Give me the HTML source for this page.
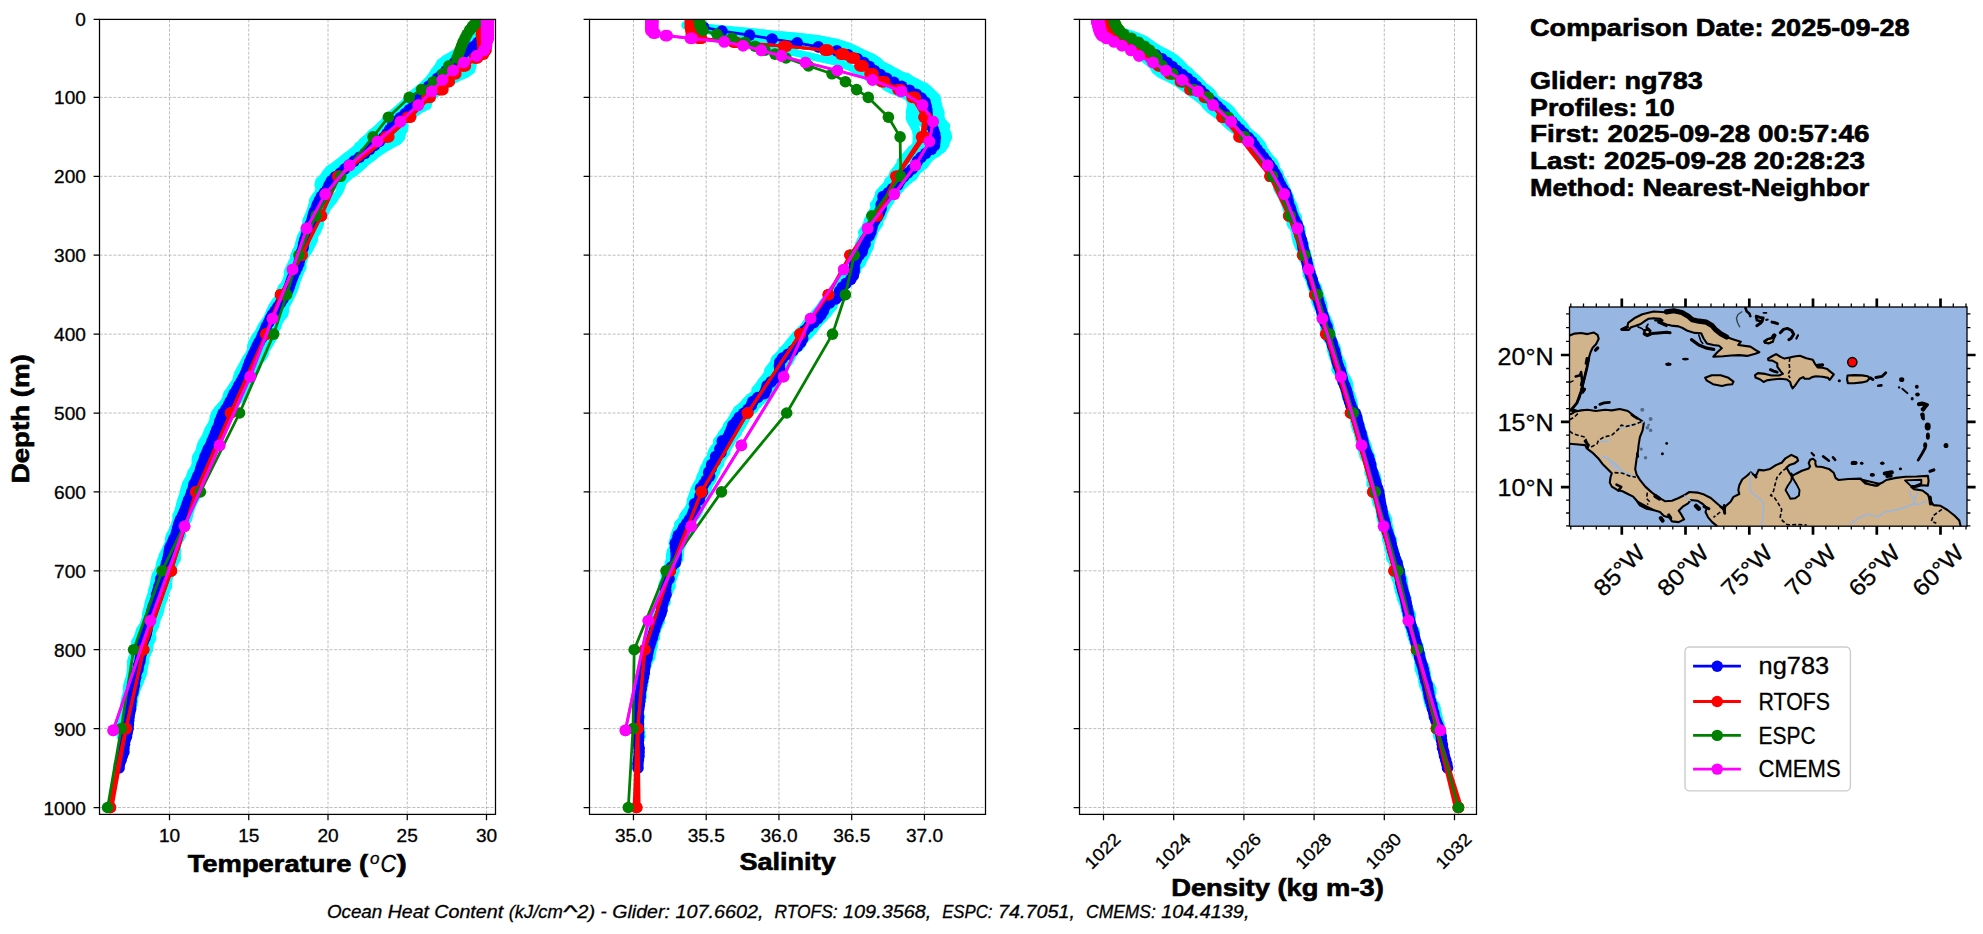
<!DOCTYPE html>
<html><head><meta charset="utf-8"><title>Glider model comparison</title><style>html,body{margin:0;padding:0;background:#fff}svg{display:block}text{white-space:pre}</style></head><body>
<svg width="1983" height="934" viewBox="0 0 1983 934" font-family="'Liberation Sans', sans-serif">
<rect width="1983" height="934" fill="#fff"/>
<defs>
<clipPath id="c0"><rect x="99.5" y="19.4" width="396.0" height="795.0"/></clipPath>
<clipPath id="c1"><rect x="589.5" y="19.4" width="396.0" height="795.0"/></clipPath>
<clipPath id="c2"><rect x="1079.5" y="19.4" width="397.0" height="795.0"/></clipPath>
<marker id="mb" markerWidth="12.6" markerHeight="12.6" refX="6.3" refY="6.3" markerUnits="userSpaceOnUse"><circle cx="6.3" cy="6.3" r="5.8" fill="#00f"/></marker>
<marker id="mr" markerWidth="12.6" markerHeight="12.6" refX="6.3" refY="6.3" markerUnits="userSpaceOnUse"><circle cx="6.3" cy="6.3" r="5.8" fill="#f00"/></marker>
<marker id="mg" markerWidth="12.6" markerHeight="12.6" refX="6.3" refY="6.3" markerUnits="userSpaceOnUse"><circle cx="6.3" cy="6.3" r="5.8" fill="#008000"/></marker>
<marker id="mm" markerWidth="12.6" markerHeight="12.6" refX="6.3" refY="6.3" markerUnits="userSpaceOnUse"><circle cx="6.3" cy="6.3" r="5.8" fill="#f0f"/></marker>
<marker id="mc" markerWidth="8.0" markerHeight="8.0" refX="4.0" refY="4.0" markerUnits="userSpaceOnUse"><circle cx="4.0" cy="4.0" r="3.5" fill="#0ff"/></marker>
</defs>
<path d="M99.5 97.4H495.5M99.5 176.3H495.5M99.5 255.2H495.5M99.5 334.1H495.5M99.5 413.0H495.5M99.5 491.9H495.5M99.5 570.8H495.5M99.5 649.7H495.5M99.5 728.6H495.5M99.5 807.5H495.5M169.5 19.4V814.4M248.75 19.4V814.4M328.0 19.4V814.4M407.25 19.4V814.4M486.5 19.4V814.4" fill="none" stroke="#b0b0b0" stroke-width="0.8" stroke-dasharray="3.1 1.5"/>
<path d="M589.5 97.4H985.45M589.5 176.3H985.45M589.5 255.2H985.45M589.5 334.1H985.45M589.5 413.0H985.45M589.5 491.9H985.45M589.5 570.8H985.45M589.5 649.7H985.45M589.5 728.6H985.45M589.5 807.5H985.45M633.45 19.4V814.4M706.2 19.4V814.4M778.95 19.4V814.4M851.7 19.4V814.4M924.45 19.4V814.4" fill="none" stroke="#b0b0b0" stroke-width="0.8" stroke-dasharray="3.1 1.5"/>
<path d="M1079.5 97.4H1476.55M1079.5 176.3H1476.55M1079.5 255.2H1476.55M1079.5 334.1H1476.55M1079.5 413.0H1476.55M1079.5 491.9H1476.55M1079.5 570.8H1476.55M1079.5 649.7H1476.55M1079.5 728.6H1476.55M1079.5 807.5H1476.55M1103.5 19.4V814.4M1173.7 19.4V814.4M1243.9 19.4V814.4M1314.1 19.4V814.4M1384.3 19.4V814.4M1454.5 19.4V814.4" fill="none" stroke="#b0b0b0" stroke-width="0.8" stroke-dasharray="3.1 1.5"/>
<g clip-path="url(#c0)">
<polyline points="477.4,19.3 475.1,23.2 474.5,27.2 471.7,31.1 468.0,35.1 467.5,39.0 467.1,42.9 464.2,46.9 458.9,50.8 453.2,54.8 445.1,58.7 439.8,62.6 437.8,66.6 434.5,70.5 432.1,74.5 429.2,78.4 425.5,82.3 421.3,86.3 416.7,90.2 411.6,94.2 407.4,98.1 404.8,102.0 400.4,106.0 396.2,109.9 392.6,113.9 389.4,117.8 384.1,121.7 379.4,125.7 376.3,129.6 371.8,133.6 367.0,137.5 362.4,141.4 359.2,145.4 354.9,149.3 349.9,153.3 344.5,157.2 339.8,161.1 334.6,165.1 328.7,169.0 325.5,173.0 323.0,176.9 318.8,180.8 317.8,184.8 319.0,188.7 317.8,192.7 314.7,196.6 312.5,200.5 312.5,204.5 311.7,208.4 309.5,212.4 307.9,216.3 306.5,220.2 305.7,224.2 304.7,228.1 303.0,232.1 300.7,236.0 299.5,239.9 298.4,243.9 297.5,247.8 295.8,251.8 293.7,255.7 293.1,259.6 291.0,263.6 290.8,267.5 291.2,271.5 288.4,275.4 286.6,279.3 285.8,283.3 281.8,287.2 279.6,291.2 279.0,295.1 276.8,299.0 273.9,303.0 271.5,306.9 269.9,310.9 268.7,314.8 266.8,318.7 263.9,322.7 262.5,326.6 259.9,330.6 256.5,334.5 253.8,338.4 253.1,342.4 253.0,346.3 250.6,350.3 248.5,354.2 246.0,358.1 243.8,362.1 241.6,366.0 239.4,370.0 237.7,373.9 236.8,377.8 235.2,381.8 232.3,385.7 229.6,389.7 226.8,393.6 225.8,397.5 224.1,401.5 220.8,405.4 217.8,409.4 214.7,413.3 213.0,417.2 212.6,421.2 210.6,425.1 208.1,429.1 206.5,433.0 205.0,436.9 202.4,440.9 200.4,444.8 199.4,448.8 198.6,452.7 197.2,456.6 195.6,460.6 195.6,464.5 193.5,468.5 190.7,472.4 189.6,476.3 188.5,480.3 186.3,484.2 185.1,488.2 185.8,492.1 184.1,496.0 181.6,500.0 179.9,503.9 179.1,507.9 177.8,511.8 175.7,515.7 176.2,519.7 175.1,523.6 173.7,527.6 173.8,531.5 171.8,535.4 169.8,539.4 169.4,543.3 167.4,547.3 164.4,551.2 162.2,555.1 161.1,559.1 161.4,563.0 160.6,567.0 157.6,570.9 155.2,574.8 154.3,578.8 153.8,582.7 152.7,586.7 151.5,590.6 150.8,594.5 149.4,598.5 148.1,602.4 147.4,606.4 146.3,610.3 145.4,614.2 145.6,618.2 144.5,622.1 142.1,626.1 139.4,630.0 138.3,633.9 136.9,637.9 134.5,641.8 135.0,645.8 135.2,649.7 133.8,653.6 131.6,657.6 130.7,661.5 130.7,665.5 130.6,669.4 131.8,673.3 130.8,677.3 128.2,681.2 126.6,685.2 126.4,689.1 126.3,693.0 124.9,697.0 124.3,700.9 123.6,704.9 123.5,708.8 124.2,712.7 123.6,716.7 122.3,720.6 121.7,724.6 121.6,728.5 120.7,732.4 120.2,736.4" fill="none" stroke="#0ff" stroke-width="7.0" stroke-linejoin="round" stroke-linecap="round"/>
<polyline points="481.3,19.3 479.5,23.2 475.6,27.2 477.3,31.1 476.5,35.1 475.0,39.0 473.8,42.9 470.5,46.9 464.6,50.8 460.2,54.8 458.9,58.7 442.0,62.6 443.8,66.6 437.0,70.5 432.5,74.5 429.4,78.4 427.9,82.3 424.4,86.3 417.6,90.2 412.7,94.2 409.5,98.1 406.0,102.0 401.6,106.0 396.8,109.9 391.5,113.9 387.6,117.8 384.0,121.7 380.8,125.7 375.5,129.6 370.4,133.6 367.5,137.5 367.1,141.4 357.7,145.4 358.1,149.3 353.9,153.3 348.0,157.2 346.2,161.1 338.7,165.1 337.8,169.0 330.9,173.0 326.8,176.9 322.0,180.8 321.3,184.8 322.9,188.7 318.7,192.7 317.9,196.6 313.5,200.5 311.8,204.5 310.7,208.4 309.7,212.4 308.0,216.3 305.9,220.2 305.7,224.2 306.0,228.1 305.1,232.1 302.5,236.0 300.1,239.9 299.6,243.9 298.1,247.8 295.2,251.8 294.0,255.7 293.6,259.6 291.6,263.6 289.0,267.5 287.3,271.5 287.3,275.4 286.4,279.3 284.5,283.3 283.3,287.2 281.6,291.2 279.7,295.1 281.2,299.0 279.8,303.0 273.0,306.9 269.8,310.9 268.1,314.8 266.5,318.7 263.5,322.7 260.8,326.6 259.0,330.6 257.4,334.5 254.7,338.4 251.7,342.4 250.5,346.3 250.7,350.3 249.6,354.2 246.0,358.1 243.9,362.1 243.3,366.0 240.8,370.0 237.4,373.9 236.3,377.8 235.9,381.8 232.7,385.7 230.1,389.7 228.5,393.6 227.4,397.5 224.4,401.5 221.1,405.4 217.2,409.4 214.7,413.3 214.1,417.2 213.5,421.2 214.9,425.1 212.5,429.1 208.5,433.0 207.2,436.9 206.6,440.9 203.6,444.8 202.2,448.8 198.1,452.7 195.5,456.6 195.0,460.6 195.1,464.5 193.6,468.5 193.2,472.4 191.1,476.3 187.3,480.3 185.3,484.2 184.2,488.2 183.1,492.1 182.8,496.0 180.7,500.0 179.7,503.9 178.8,507.9 177.6,511.8 177.3,515.7 175.8,519.7 174.7,523.6 173.3,527.6 171.5,531.5 169.3,535.4 168.2,539.4 168.9,543.3 168.6,547.3 166.9,551.2 164.6,555.1 162.0,559.1 160.9,563.0 159.9,567.0 157.5,570.9 156.6,574.8 155.0,578.8 153.7,582.7 153.7,586.7 152.2,590.6 151.2,594.5 151.6,598.5 150.9,602.4 148.4,606.4 150.3,610.3 149.4,614.2 145.2,618.2 143.8,622.1 144.8,626.1 145.9,630.0 144.8,633.9 141.6,637.9 140.6,641.8 138.0,645.8 135.6,649.7 135.5,653.6 132.5,657.6 130.5,661.5 130.6,665.5 130.7,669.4 130.7,673.3 130.5,677.3 130.0,681.2 130.1,685.2 131.5,689.1 130.7,693.0 129.7,697.0 126.9,700.9 125.1,704.9 124.6,708.8 123.0,712.7 121.8,716.7 122.2,720.6 122.6,724.6 124.3,728.5 124.5,732.4 122.7,736.4" fill="none" stroke="#0ff" stroke-width="7.0" stroke-linejoin="round" stroke-linecap="round"/>
<polyline points="478.5,19.3 476.7,23.2 473.2,27.2 471.6,31.1 470.6,35.1 468.4,39.0 466.3,42.9 465.8,46.9 458.3,50.8 451.8,54.8 444.9,58.7 442.6,62.6 443.6,66.6 450.2,70.5 445.1,74.5 437.9,78.4 433.0,82.3 429.2,86.3 424.8,90.2 418.5,94.2 413.3,98.1 406.6,102.0 401.9,106.0 396.7,109.9 391.6,113.9 387.6,117.8 383.9,121.7 380.1,125.7 376.3,129.6 372.9,133.6 367.8,137.5 362.3,141.4 360.6,145.4 358.9,149.3 352.1,153.3 347.9,157.2 341.4,161.1 337.7,165.1 335.4,169.0 334.3,173.0 328.4,176.9 326.5,180.8 325.6,184.8 325.3,188.7 323.2,192.7 321.9,196.6 325.7,200.5 323.7,204.5 320.0,208.4 315.3,212.4 313.8,216.3 312.8,220.2 311.0,224.2 308.7,228.1 305.2,232.1 302.9,236.0 303.7,239.9 304.1,243.9 300.8,247.8 298.8,251.8 298.2,255.7 298.2,259.6 297.6,263.6 297.3,267.5 295.6,271.5 294.1,275.4 293.5,279.3 289.0,283.3 289.5,287.2 287.8,291.2 284.9,295.1 282.1,299.0 280.0,303.0 278.1,306.9 273.1,310.9 271.3,314.8 268.9,318.7 266.3,322.7 265.0,326.6 261.6,330.6 258.2,334.5 258.6,338.4 255.6,342.4 253.2,346.3 252.4,350.3 253.8,354.2 251.6,358.1 252.3,362.1 252.8,366.0 251.2,370.0 249.3,373.9 246.6,377.8 247.5,381.8 242.4,385.7 238.8,389.7 234.1,393.6 233.5,397.5 229.4,401.5 225.4,405.4 223.2,409.4 219.9,413.3 219.3,417.2 218.2,421.2 216.2,425.1 210.7,429.1 209.6,433.0 208.9,436.9 206.7,440.9 204.1,444.8 204.1,448.8 201.3,452.7 200.0,456.6 201.2,460.6 198.8,464.5 195.0,468.5 194.7,472.4 193.0,476.3 189.3,480.3 190.3,484.2 189.5,488.2 184.9,492.1 182.1,496.0 183.4,500.0 182.5,503.9 183.3,507.9 183.8,511.8 180.6,515.7 178.0,519.7 179.9,523.6 179.5,527.6 175.9,531.5 173.6,535.4 174.1,539.4 172.5,543.3 168.5,547.3 166.8,551.2 166.4,555.1 164.6,559.1 163.7,563.0 164.6,567.0 163.9,570.9 165.0,574.8 164.2,578.8 165.7,582.7 162.4,586.7 161.5,590.6 161.6,594.5 157.4,598.5 155.3,602.4 152.0,606.4 151.4,610.3 149.5,614.2 148.6,618.2 147.3,622.1 145.6,626.1 145.4,630.0 146.0,633.9 142.4,637.9 141.6,641.8 138.1,645.8 137.6,649.7 135.3,653.6 132.4,657.6 134.2,661.5 131.0,665.5 130.3,669.4 129.9,673.3 129.2,677.3 127.9,681.2 128.1,685.2 128.4,689.1 128.2,693.0 126.9,697.0 126.6,700.9 127.7,704.9 127.1,708.8 126.3,712.7 125.6,716.7 125.7,720.6 124.1,724.6 123.3,728.5 124.6,732.4 123.9,736.4" fill="none" stroke="#0ff" stroke-width="7.0" stroke-linejoin="round" stroke-linecap="round"/>
<polyline points="481.1,19.3 478.4,23.2 476.3,27.2 473.4,31.1 475.2,35.1 472.7,39.0 466.6,42.9 464.7,46.9 463.1,50.8 459.6,54.8 456.9,58.7 456.3,62.6 450.9,66.6 447.6,70.5 449.4,74.5 444.6,78.4 439.7,82.3 438.5,86.3 435.6,90.2 428.5,94.2 423.3,98.1 419.1,102.0 413.9,106.0 408.4,109.9 401.0,113.9 392.7,117.8 390.0,121.7 390.9,125.7 389.6,129.6 387.3,133.6 387.2,137.5 382.1,141.4 372.7,145.4 369.3,149.3 360.2,153.3 350.7,157.2 345.8,161.1 340.4,165.1 333.4,169.0 328.3,173.0 330.5,176.9 329.7,180.8 329.1,184.8 326.7,188.7 324.3,192.7 320.4,196.6 320.2,200.5 318.5,204.5 312.7,208.4 312.9,212.4 313.9,216.3 312.0,220.2 310.4,224.2 310.3,228.1 310.3,232.1 307.3,236.0 307.2,239.9 304.5,243.9 304.2,247.8 304.0,251.8 302.4,255.7 302.6,259.6 298.2,263.6 296.7,267.5 294.1,271.5 293.1,275.4 293.0,279.3 292.8,283.3 289.9,287.2 287.0,291.2 286.6,295.1 286.0,299.0 283.7,303.0 281.9,306.9 277.9,310.9 274.5,314.8 270.5,318.7 268.2,322.7 264.7,326.6 264.4,330.6 265.8,334.5 265.5,338.4 265.7,342.4 261.9,346.3 260.6,350.3 255.9,354.2 254.3,358.1 253.3,362.1 248.2,366.0 246.8,370.0 243.8,373.9 241.3,377.8 239.7,381.8 240.1,385.7 237.8,389.7 230.7,393.6 233.0,397.5 229.0,401.5 227.4,405.4 225.2,409.4 218.6,413.3 215.6,417.2 213.2,421.2 213.6,425.1 211.2,429.1 210.5,433.0 207.4,436.9 207.1,440.9 208.1,444.8 208.3,448.8 208.2,452.7 203.3,456.6 201.5,460.6 201.8,464.5 203.0,468.5 201.8,472.4 197.9,476.3 195.8,480.3 198.8,484.2 196.2,488.2 192.6,492.1 190.2,496.0 188.3,500.0 186.8,503.9 184.7,507.9 182.8,511.8 181.0,515.7 180.5,519.7 177.7,523.6 175.4,527.6 172.4,531.5 171.4,535.4 169.6,539.4 167.8,543.3 166.1,547.3 164.5,551.2 163.7,555.1 161.2,559.1 159.6,563.0 158.9,567.0 160.0,570.9 161.5,574.8 161.1,578.8 159.8,582.7 159.4,586.7 155.9,590.6 155.0,594.5 155.0,598.5 151.8,602.4 149.4,606.4 149.0,610.3 147.4,614.2 146.4,618.2 145.2,622.1 145.7,626.1 144.3,630.0 142.4,633.9 142.6,637.9 140.8,641.8 138.2,645.8 135.5,649.7 135.8,653.6 134.6,657.6 134.0,661.5 133.0,665.5 134.2,669.4 131.2,673.3 133.2,677.3 135.6,681.2 135.4,685.2 135.1,689.1 132.2,693.0 132.4,697.0 130.1,700.9 128.7,704.9 127.3,708.8 126.1,712.7 126.3,716.7 124.5,720.6 125.3,724.6 125.8,728.5 125.4,732.4 126.3,736.4" fill="none" stroke="#0ff" stroke-width="7.0" stroke-linejoin="round" stroke-linecap="round"/>
<polyline points="480.3,19.3 478.4,23.2 474.1,27.2 472.7,31.1 470.1,35.1 469.7,39.0 471.1,42.9 468.0,46.9 464.3,50.8 465.8,54.8 463.7,58.7 456.3,62.6 456.3,66.6 450.5,70.5 445.1,74.5 443.7,78.4 437.2,82.3 430.2,86.3 426.5,90.2 421.7,94.2 418.7,98.1 414.5,102.0 409.1,106.0 401.3,109.9 403.3,113.9 398.2,117.8 391.0,121.7 389.1,125.7 385.9,129.6 386.9,133.6 385.6,137.5 386.0,141.4 376.4,145.4 375.6,149.3 371.2,153.3 368.5,157.2 361.1,161.1 355.2,165.1 350.0,169.0 341.2,173.0 333.1,176.9 328.9,180.8 325.7,184.8 322.6,188.7 322.2,192.7 320.9,196.6 320.1,200.5 316.5,204.5 316.3,208.4 313.0,212.4 313.4,216.3 312.0,220.2 308.0,224.2 305.7,228.1 304.4,232.1 307.4,236.0 306.2,239.9 305.0,243.9 303.4,247.8 301.4,251.8 302.2,255.7 301.2,259.6 297.5,263.6 293.2,267.5 293.0,271.5 289.1,275.4 286.4,279.3 286.0,283.3 281.5,287.2 280.2,291.2 280.3,295.1 278.0,299.0 274.6,303.0 273.0,306.9 271.4,310.9 268.9,314.8 268.2,318.7 265.1,322.7 265.0,326.6 262.7,330.6 259.5,334.5 258.0,338.4 258.4,342.4 255.9,346.3 255.6,350.3 251.5,354.2 247.6,358.1 247.6,362.1 247.5,366.0 246.5,370.0 245.8,373.9 246.5,377.8 244.4,381.8 244.5,385.7 244.7,389.7 244.4,393.6 239.5,397.5 235.4,401.5 231.6,405.4 228.7,409.4 224.0,413.3 219.6,417.2 218.8,421.2 216.7,425.1 214.8,429.1 211.4,433.0 209.8,436.9 207.9,440.9 204.7,444.8 205.2,448.8 201.5,452.7 199.1,456.6 197.6,460.6 200.0,464.5 195.6,468.5 193.1,472.4 192.0,476.3 191.7,480.3 192.6,484.2 189.6,488.2 190.8,492.1 187.7,496.0 187.4,500.0 185.8,503.9 185.2,507.9 182.6,511.8 182.4,515.7 181.9,519.7 177.9,523.6 177.7,527.6 177.4,531.5 177.0,535.4 178.1,539.4 175.9,543.3 172.5,547.3 170.7,551.2 169.7,555.1 166.9,559.1 164.4,563.0 165.8,567.0 162.8,570.9 162.3,574.8 163.0,578.8 163.7,582.7 163.1,586.7 161.4,590.6 162.8,594.5 159.2,598.5 155.7,602.4 154.5,606.4 154.0,610.3 150.6,614.2 148.3,618.2 148.1,622.1 145.0,626.1 144.2,630.0 144.0,633.9 144.0,637.9 143.4,641.8 141.1,645.8 140.8,649.7 140.8,653.6 140.7,657.6 141.7,661.5 141.1,665.5 136.4,669.4 135.3,673.3 136.0,677.3 133.3,681.2 133.4,685.2 132.2,689.1 128.8,693.0 126.4,697.0 124.8,700.9 123.6,704.9 123.8,708.8 126.0,712.7 124.2,716.7 120.8,720.6 119.8,724.6 121.0,728.5 121.2,732.4 120.8,736.4" fill="none" stroke="#0ff" stroke-width="7.0" stroke-linejoin="round" stroke-linecap="round"/>
<polyline points="483.9,19.3 484.3,23.2 483.1,27.2 482.4,31.1 482.0,35.1 479.9,39.0 480.2,42.9 479.6,46.9 472.8,50.8 469.2,54.8 466.8,58.7 457.6,62.6 452.9,66.6 451.3,70.5 444.5,74.5 432.8,78.4 434.6,82.3 428.8,86.3 420.7,90.2 422.9,94.2 421.2,98.1 414.3,102.0 413.7,106.0 412.9,109.9 406.6,113.9 401.6,117.8 395.5,121.7 387.1,125.7 388.4,129.6 389.3,133.6 388.8,137.5 390.4,141.4 386.5,145.4 382.3,149.3 377.4,153.3 373.7,157.2 366.7,161.1 359.2,165.1 350.0,169.0 342.8,173.0 339.2,176.9 335.9,180.8 331.8,184.8 325.7,188.7 324.8,192.7 324.0,196.6 324.2,200.5 322.4,204.5 316.9,208.4 312.7,212.4 311.2,216.3 309.5,220.2 306.7,224.2 303.8,228.1 306.6,232.1 304.0,236.0 305.4,239.9 304.8,243.9 303.4,247.8 301.8,251.8 302.4,255.7 303.1,259.6 299.2,263.6 298.8,267.5 296.4,271.5 294.6,275.4 296.2,279.3 295.9,283.3 294.2,287.2 288.2,291.2 288.3,295.1 286.9,299.0 282.0,303.0 279.6,306.9 274.8,310.9 276.6,314.8 274.0,318.7 272.5,322.7 269.4,326.6 272.0,330.6 272.0,334.5 271.6,338.4 270.4,342.4 265.4,346.3 264.3,350.3 261.2,354.2 257.0,358.1 254.5,362.1 251.0,366.0 249.8,370.0 248.3,373.9 246.1,377.8 240.7,381.8 238.8,385.7 239.7,389.7 236.5,393.6 237.6,397.5 234.6,401.5 229.1,405.4 226.5,409.4 223.0,413.3 221.9,417.2 219.5,421.2 216.3,425.1 216.5,429.1 214.9,433.0 210.7,436.9 208.5,440.9 206.3,444.8 205.2,448.8 206.4,452.7 205.6,456.6 203.0,460.6 199.7,464.5 201.1,468.5 201.8,472.4 203.8,476.3 199.0,480.3 197.8,484.2 196.8,488.2 195.1,492.1 194.2,496.0 194.2,500.0 191.6,503.9 187.0,507.9 185.8,511.8 181.7,515.7 181.4,519.7 179.8,523.6 178.9,527.6 177.1,531.5 176.2,535.4 175.3,539.4 176.4,543.3 175.8,547.3 175.1,551.2 177.4,555.1 177.6,559.1 174.9,563.0 172.5,567.0 169.4,570.9 164.4,574.8 161.7,578.8 159.4,582.7 158.0,586.7 154.5,590.6 155.9,594.5 151.4,598.5 152.3,602.4 152.5,606.4 151.2,610.3 150.1,614.2 148.3,618.2 148.0,622.1 147.4,626.1 147.2,630.0 142.7,633.9 139.3,637.9 138.6,641.8 137.1,645.8 137.0,649.7 139.9,653.6 140.2,657.6 139.1,661.5 137.2,665.5 135.6,669.4 133.2,673.3 133.8,677.3 132.7,681.2 130.4,685.2 128.2,689.1 127.7,693.0 128.2,697.0 128.6,700.9 128.8,704.9 126.6,708.8 127.6,712.7 124.8,716.7 123.3,720.6 122.9,724.6 121.0,728.5 121.0,732.4 123.2,736.4" fill="none" stroke="#0ff" stroke-width="7.0" stroke-linejoin="round" stroke-linecap="round"/>
<polyline points="484.7,19.3 484.4,23.2 480.2,27.2 478.2,31.1 477.4,35.1 476.0,39.0 477.3,42.9 474.6,46.9 469.3,50.8 464.1,54.8 462.2,58.7 465.6,62.6 465.4,66.6 461.3,70.5 460.1,74.5 454.8,78.4 448.7,82.3 445.8,86.3 441.8,90.2 435.3,94.2 431.3,98.1 429.0,102.0 428.2,106.0 419.1,109.9 406.4,113.9 397.0,117.8 391.0,121.7 389.3,125.7 385.2,129.6 376.9,133.6 374.3,137.5 373.4,141.4 374.0,145.4 374.1,149.3 375.2,153.3 367.7,157.2 365.4,161.1 364.0,165.1 359.1,169.0 353.3,173.0 347.5,176.9 341.7,180.8 334.6,184.8 331.7,188.7 328.8,192.7 324.8,196.6 320.9,200.5 317.1,204.5 316.0,208.4 315.5,212.4 311.8,216.3 311.4,220.2 309.8,224.2 310.0,228.1 311.1,232.1 309.9,236.0 307.0,239.9 304.1,243.9 303.5,247.8 303.2,251.8 301.8,255.7 301.2,259.6 300.6,263.6 299.0,267.5 297.5,271.5 295.7,275.4 294.8,279.3 294.7,283.3 294.7,287.2 293.1,291.2 291.8,295.1 290.1,299.0 288.2,303.0 283.5,306.9 283.0,310.9 282.0,314.8 277.0,318.7 272.6,322.7 269.9,326.6 268.6,330.6 266.7,334.5 266.9,338.4 264.4,342.4 261.1,346.3 263.4,350.3 260.1,354.2 256.0,358.1 251.8,362.1 248.2,366.0 248.1,370.0 242.8,373.9 242.7,377.8 240.7,381.8 237.8,385.7 239.5,389.7 235.3,393.6 235.5,397.5 232.4,401.5 232.4,405.4 231.4,409.4 226.5,413.3 226.1,417.2 224.1,421.2 221.7,425.1 216.8,429.1 216.7,433.0 213.4,436.9 210.7,440.9 210.1,444.8 206.6,448.8 202.5,452.7 200.3,456.6 199.9,460.6 198.0,464.5 198.7,468.5 196.4,472.4 195.1,476.3 197.4,480.3 196.5,484.2 194.6,488.2 193.7,492.1 193.9,496.0 191.0,500.0 189.4,503.9 185.3,507.9 183.2,511.8 182.7,515.7 182.2,519.7 181.9,523.6 179.7,527.6 178.7,531.5 177.7,535.4 176.4,539.4 174.6,543.3 174.1,547.3 172.7,551.2 171.6,555.1 170.9,559.1 168.0,563.0 165.4,567.0 166.9,570.9 166.8,574.8 165.3,578.8 166.2,582.7 165.1,586.7 164.1,590.6 163.9,594.5 164.4,598.5 162.7,602.4 161.1,606.4 160.8,610.3 159.5,614.2 156.6,618.2 155.2,622.1 150.9,626.1 149.1,630.0 146.2,633.9 146.1,637.9 147.2,641.8 146.0,645.8 146.0,649.7 145.9,653.6 145.2,657.6 144.3,661.5 144.5,665.5 143.3,669.4 139.2,673.3 137.2,677.3 137.0,681.2 135.1,685.2 134.1,689.1 132.1,693.0 129.8,697.0 126.8,700.9 127.5,704.9 127.0,708.8 126.4,712.7 125.4,716.7 126.0,720.6 126.2,724.6 126.6,728.5 125.9,732.4 124.4,736.4" fill="none" stroke="#0ff" stroke-width="7.0" stroke-linejoin="round" stroke-linecap="round"/>
<polyline points="486.0,19.3 482.9,23.2 480.7,27.2 482.6,31.1 478.8,35.1 474.4,39.0 473.5,42.9 472.3,46.9 466.1,50.8 464.2,54.8 460.7,58.7 461.3,62.6 455.2,66.6 456.6,70.5 453.9,74.5 449.6,78.4 442.6,82.3 435.4,86.3 432.7,90.2 428.1,94.2 424.8,98.1 422.3,102.0 420.6,106.0 412.8,109.9 411.0,113.9 410.2,117.8 404.8,121.7 400.4,125.7 397.2,129.6 394.7,133.6 393.9,137.5 388.6,141.4 389.8,145.4 380.3,149.3 371.9,153.3 372.4,157.2 367.3,161.1 361.5,165.1 358.9,169.0 354.7,173.0 346.6,176.9 338.8,180.8 337.3,184.8 329.5,188.7 327.4,192.7 324.9,196.6 320.7,200.5 319.4,204.5 318.6,208.4 320.9,212.4 320.1,216.3 319.5,220.2 317.1,224.2 316.6,228.1 316.2,232.1 314.1,236.0 312.2,239.9 310.0,243.9 307.5,247.8 306.6,251.8 304.3,255.7 303.6,259.6 300.9,263.6 300.7,267.5 298.9,271.5 295.3,275.4 294.2,279.3 288.2,283.3 285.8,287.2 286.9,291.2 285.5,295.1 284.3,299.0 281.5,303.0 282.5,306.9 279.9,310.9 280.7,314.8 279.2,318.7 278.6,322.7 278.2,326.6 274.5,330.6 273.5,334.5 269.8,338.4 268.3,342.4 263.3,346.3 261.4,350.3 259.4,354.2 256.2,358.1 253.1,362.1 252.1,366.0 250.2,370.0 248.3,373.9 245.9,377.8 242.8,381.8 240.7,385.7 239.7,389.7 236.5,393.6 232.1,397.5 233.9,401.5 231.7,405.4 228.8,409.4 225.1,413.3 222.5,417.2 221.6,421.2 220.3,425.1 219.5,429.1 218.2,433.0 217.3,436.9 214.4,440.9 213.9,444.8 213.5,448.8 213.0,452.7 211.0,456.6 208.0,460.6 207.7,464.5 204.4,468.5 202.7,472.4 201.5,476.3 200.6,480.3 201.2,484.2 198.0,488.2 195.7,492.1 195.3,496.0 192.1,500.0 189.5,503.9 186.3,507.9 184.9,511.8 182.6,515.7 181.9,519.7 180.4,523.6 179.2,527.6 176.9,531.5 174.4,535.4 174.3,539.4 174.7,543.3 175.0,547.3 172.8,551.2 173.1,555.1 173.3,559.1 174.5,563.0 172.3,567.0 171.3,570.9 170.5,574.8 168.8,578.8 167.8,582.7 167.4,586.7 165.6,590.6 165.4,594.5 164.3,598.5 160.9,602.4 157.5,606.4 156.7,610.3 157.5,614.2 154.4,618.2 153.9,622.1 151.8,626.1 147.5,630.0 144.7,633.9 141.8,637.9 139.1,641.8 137.9,645.8 138.6,649.7 138.3,653.6 139.0,657.6 138.4,661.5 138.9,665.5 138.5,669.4 135.8,673.3 134.8,677.3 134.5,681.2 132.3,685.2 129.5,689.1 132.1,693.0 132.5,697.0 129.4,700.9 127.7,704.9 126.4,708.8 127.1,712.7 127.7,716.7 127.0,720.6 128.6,724.6 128.2,728.5 126.1,732.4 125.4,736.4" fill="none" stroke="#0ff" stroke-width="7.0" stroke-linejoin="round" stroke-linecap="round"/>
<polyline points="483.1,19.3 482.0,23.2 482.0,27.2 482.8,31.1 479.8,35.1 477.5,39.0 479.2,42.9 476.8,46.9 473.1,50.8 474.7,54.8 476.5,58.7 464.4,62.6 459.6,66.6 459.3,70.5 458.3,74.5 446.4,78.4 439.4,82.3 433.0,86.3 427.4,90.2 426.9,94.2 423.4,98.1 416.7,102.0 411.9,106.0 416.8,109.9 414.1,113.9 404.3,117.8 403.2,121.7 400.4,125.7 403.7,129.6 402.0,133.6 400.4,137.5 396.4,141.4 390.2,145.4 383.3,149.3 369.3,153.3 366.4,157.2 358.4,161.1 352.2,165.1 347.1,169.0 344.8,173.0 341.9,176.9 338.9,180.8 342.4,184.8 341.1,188.7 339.2,192.7 334.9,196.6 331.0,200.5 327.9,204.5 327.0,208.4 325.6,212.4 320.2,216.3 316.3,220.2 314.6,224.2 318.8,228.1 317.4,232.1 314.4,236.0 312.9,239.9 308.4,243.9 306.7,247.8 304.2,251.8 301.5,255.7 299.2,259.6 298.6,263.6 296.1,267.5 294.4,271.5 295.3,275.4 295.5,279.3 296.6,283.3 295.4,287.2 292.7,291.2 289.6,295.1 285.2,299.0 283.9,303.0 281.2,306.9 279.8,310.9 275.8,314.8 272.9,318.7 269.4,322.7 271.1,326.6 272.3,330.6 269.4,334.5 267.6,338.4 262.5,342.4 259.8,346.3 261.2,350.3 261.4,354.2 254.4,358.1 255.7,362.1 254.6,366.0 252.2,370.0 250.9,373.9 249.8,377.8 248.2,381.8 241.9,385.7 244.8,389.7 242.2,393.6 238.5,397.5 235.3,401.5 233.0,405.4 230.6,409.4 227.6,413.3 225.6,417.2 222.6,421.2 221.2,425.1 218.5,429.1 215.2,433.0 210.0,436.9 206.9,440.9 206.6,444.8 207.3,448.8 204.7,452.7 205.5,456.6 204.2,460.6 203.2,464.5 204.9,468.5 204.2,472.4 202.1,476.3 202.7,480.3 201.5,484.2 199.0,488.2 196.1,492.1 194.7,496.0 193.2,500.0 192.0,503.9 191.4,507.9 188.2,511.8 188.5,515.7 187.5,519.7 185.4,523.6 183.2,527.6 181.9,531.5 181.5,535.4 177.9,539.4 178.1,543.3 177.4,547.3 177.9,551.2 177.2,555.1 176.2,559.1 174.9,563.0 172.6,567.0 170.5,570.9 167.7,574.8 165.8,578.8 166.7,582.7 167.6,586.7 166.6,590.6 164.9,594.5 163.1,598.5 162.0,602.4 161.3,606.4 160.3,610.3 159.0,614.2 157.5,618.2 154.7,622.1 153.7,626.1 151.8,630.0 150.6,633.9 148.3,637.9 147.8,641.8 149.9,645.8 149.7,649.7 146.3,653.6 145.5,657.6 146.0,661.5 144.9,665.5 143.4,669.4 142.6,673.3 138.7,677.3 139.0,681.2 137.7,685.2 134.9,689.1 131.7,693.0 130.2,697.0 128.3,700.9 128.2,704.9 127.6,708.8 125.1,712.7 125.3,716.7 123.7,720.6 123.9,724.6 124.0,728.5 124.5,732.4 124.2,736.4" fill="none" stroke="#0ff" stroke-width="7.0" stroke-linejoin="round" stroke-linecap="round"/>
<polyline points="488.7,19.3 487.3,23.2 487.3,27.2 485.9,31.1 484.5,35.1 485.4,39.0 484.8,42.9 483.0,46.9 481.7,50.8 480.3,54.8 476.5,58.7 473.5,62.6 472.9,66.6 471.8,70.5 466.0,74.5 457.2,78.4 450.6,82.3 444.8,86.3 439.6,90.2 434.9,94.2 430.4,98.1 427.7,102.0 427.5,106.0 420.2,109.9 414.7,113.9 409.3,117.8 404.7,121.7 405.2,125.7 404.5,129.6 402.4,133.6 401.9,137.5 398.6,141.4 390.8,145.4 384.2,149.3 378.2,153.3 372.6,157.2 368.0,161.1 362.4,165.1 356.8,169.0 352.9,173.0 349.0,176.9 344.5,180.8 341.6,184.8 340.1,188.7 338.8,192.7 336.3,196.6 333.8,200.5 330.6,204.5 327.2,208.4 325.3,212.4 323.2,216.3 320.9,220.2 320.5,224.2 319.1,228.1 315.6,232.1 314.4,236.0 314.6,239.9 312.6,243.9 310.6,247.8 308.5,251.8 305.7,255.7 304.1,259.6 302.9,263.6 303.1,267.5 301.0,271.5 299.4,275.4 298.0,279.3 295.3,283.3 295.0,287.2 293.9,291.2 291.9,295.1 288.7,299.0 287.1,303.0 285.9,306.9 285.8,310.9 284.7,314.8 281.4,318.7 279.1,322.7 277.0,326.6 275.3,330.6 274.6,334.5 273.3,338.4 271.0,342.4 268.7,346.3 266.0,350.3 265.3,354.2 262.9,358.1 258.8,362.1 257.7,366.0 256.1,370.0 253.5,373.9 252.9,377.8 250.6,381.8 248.6,385.7 246.6,389.7 244.1,393.6 242.5,397.5 238.2,401.5 234.2,405.4 231.0,409.4 228.3,413.3 227.7,417.2 224.7,421.2 222.7,425.1 220.9,429.1 217.9,433.0 215.7,436.9 215.8,440.9 215.2,444.8 212.6,448.8 210.8,452.7 210.1,456.6 207.9,460.6 205.9,464.5 207.5,468.5 206.0,472.4 203.2,476.3 202.6,480.3 200.8,484.2 199.1,488.2 198.8,492.1 197.3,496.0 195.4,500.0 193.4,503.9 191.8,507.9 190.5,511.8 189.6,515.7 188.5,519.7 185.8,523.6 182.2,527.6 181.8,531.5 182.8,535.4 180.6,539.4 177.6,543.3 176.4,547.3 177.2,551.2 176.2,555.1 174.1,559.1 173.9,563.0 173.9,567.0 172.6,570.9 170.5,574.8 168.9,578.8 168.8,582.7 168.7,586.7 166.3,590.6 163.4,594.5 161.8,598.5 161.9,602.4 160.7,606.4 159.7,610.3 159.2,614.2 157.6,618.2 156.6,622.1 155.7,626.1 153.6,630.0 151.9,633.9 153.0,637.9 151.3,641.8 148.3,645.8 148.7,649.7 147.9,653.6 145.6,657.6 143.8,661.5 143.6,665.5 144.2,669.4 143.7,673.3 142.0,677.3 140.7,681.2 139.0,685.2 137.3,689.1 136.3,693.0 135.0,697.0 134.7,700.9 134.0,704.9 131.6,708.8 130.4,712.7 129.9,716.7 128.0,720.6 127.9,724.6 127.3,728.5 127.1,732.4 127.9,736.4" fill="none" stroke="#0ff" stroke-width="7.0" stroke-linejoin="round" stroke-linecap="round"/>
<polyline points="484.2,19.3 484.3,23.2 484.4,27.2 484.0,31.1 482.7,35.1 481.1,39.0 477.5,42.9 473.0,46.9 467.7,50.8 462.4,54.8 458.4,58.7 454.4,62.6 450.4,66.6 446.1,70.5 441.9,74.5 437.5,78.4 432.9,82.3 428.6,86.3 425.3,90.2 422.3,94.2 419.4,98.1 416.3,102.0 413.7,106.0 409.2,109.9 405.0,113.9 400.1,117.8 395.9,121.7 392.6,125.7 389.7,129.6 386.9,133.6 383.7,137.5 379.3,141.4 374.4,145.4 369.8,149.3 364.9,153.3 359.5,157.2 354.1,161.1 349.2,165.1 344.7,169.0 340.4,173.0 335.2,176.9 331.4,180.8 329.2,184.8 327.6,188.7 324.5,192.7 321.3,196.6 319.3,200.5 317.4,204.5 316.1,208.4 314.1,212.4 313.0,216.3 312.0,220.2 310.4,224.2 309.0,228.1 307.2,232.1 306.1,236.0 304.7,239.9 303.6,243.9 303.1,247.8 301.6,251.8 300.8,255.7 299.6,259.6 298.8,263.6 297.2,267.5 295.2,271.5 293.3,275.4 291.9,279.3 290.5,283.3 289.2,287.2 287.6,291.2 285.4,295.1 283.1,299.0 280.6,303.0 277.8,306.9 275.1,310.9 272.3,314.8 270.3,318.7 268.5,322.7 266.3,326.6 264.8,330.6 262.8,334.5 261.3,338.4 259.0,342.4 257.0,346.3 255.2,350.3 253.3,354.2 251.5,358.1 249.7,362.1 248.3,366.0 246.9,370.0 245.3,373.9 243.2,377.8 241.1,381.8 238.7,385.7 236.8,389.7 234.2,393.6 232.5,397.5 230.2,401.5 228.4,405.4 225.9,409.4 223.1,413.3 221.6,417.2 219.9,421.2 219.0,425.1 217.0,429.1 215.5,433.0 214.0,436.9 212.2,440.9 210.8,444.8 208.3,448.8 206.9,452.7 205.0,456.6 203.9,460.6 202.1,464.5 200.8,468.5 199.8,472.4 197.7,476.3 196.2,480.3 194.0,484.2 193.3,488.2 191.7,492.1 190.5,496.0 188.5,500.0 187.2,503.9 185.9,507.9 184.3,511.8 182.6,515.7 180.4,519.7 179.0,523.6 177.8,527.6 176.8,531.5 175.8,535.4 173.7,539.4 172.1,543.3 170.1,547.3 169.3,551.2 168.6,555.1 167.7,559.1 166.5,563.0 165.5,567.0 164.1,570.9 162.6,574.8 160.8,578.8 160.4,582.7 158.8,586.7 157.9,590.6 156.6,594.5 156.2,598.5 154.8,602.4 153.2,606.4 152.1,610.3 151.4,614.2 150.0,618.2 148.8,622.1 147.5,626.1 147.0,630.0 146.2,633.9 145.0,637.9 143.2,641.8 141.9,645.8 141.5,649.7 141.3,653.6 140.4,657.6 139.8,661.5 138.5,665.5 137.9,669.4 136.2,673.3 135.7,677.3 134.7,681.2 134.4,685.2 133.6,689.1 132.8,693.0 131.4,697.0 131.2,700.9 130.7,704.9 130.7,708.8 129.7,712.7 129.1,716.7 128.7,720.6 128.4,724.6 128.1,728.5 127.2,732.4 126.5,736.4 125.1,740.3 124.5,744.3 123.9,748.2 123.9,752.1 122.3,756.1 121.1,760.0 119.5,764.0 119.1,767.9" fill="none" stroke="#00f" stroke-width="2.78" stroke-linejoin="round" stroke-linecap="round" marker-start="url(#mb)" marker-mid="url(#mb)" marker-end="url(#mb)"/>
<polyline points="480.4,18.6 480.4,20.1 480.4,21.7 480.6,23.3 480.8,24.9 480.9,26.4 481.1,28.0 481.4,30.4 481.4,34.3 481.9,38.3 482.4,42.2 482.7,46.2 482.9,50.1 480.4,54.1 474.4,58.0 462.2,65.9 452.6,73.8 446.1,81.7 439.7,89.6 426.9,97.4 407.4,117.2 385.6,136.9 337.6,176.3 321.1,215.8 301.7,255.2 280.5,294.7 265.8,334.1 230.5,413.0 195.8,491.9 171.1,570.8 143.4,649.7 125.8,728.6 110.1,807.5" fill="none" stroke="#f00" stroke-width="2.78" stroke-linejoin="round" stroke-linecap="round" marker-start="url(#mr)" marker-mid="url(#mr)" marker-end="url(#mr)"/>
<polyline points="482.0,18.6 482.0,20.1 482.0,21.7 482.2,23.3 482.4,24.9 482.5,26.4 482.7,28.0 483.0,30.4 483.0,34.3 483.5,38.3 484.0,42.2 484.3,46.2 484.5,50.1 482.0,54.1 476.0,58.0 463.8,65.9 454.2,73.8 447.7,81.7 441.3,89.6 428.5,97.4 409.0,117.2 387.2,136.9 338.5,176.3 321.3,215.8 301.9,255.2 280.7,294.7 266.0,334.1 230.7,413.0 196.0,491.9 171.3,570.8 143.6,649.7 126.0,728.6 110.3,807.5" fill="none" stroke="#f00" stroke-width="2.78" stroke-linejoin="round" stroke-linecap="round" marker-start="url(#mr)" marker-mid="url(#mr)" marker-end="url(#mr)"/>
<polyline points="483.6,18.6 483.6,20.1 483.6,21.7 483.8,23.3 484.0,24.9 484.1,26.4 484.3,28.0 484.6,30.4 484.6,34.3 485.1,38.3 485.6,42.2 485.9,46.2 486.1,50.1 483.6,54.1 477.6,58.0 465.4,65.9 455.8,73.8 449.3,81.7 442.9,89.6 430.1,97.4 410.6,117.2 388.8,136.9 339.4,176.3 321.5,215.8 302.1,255.2 280.9,294.7 266.2,334.1 230.9,413.0 196.2,491.9 171.5,570.8 143.8,649.7 126.2,728.6 110.5,807.5" fill="none" stroke="#f00" stroke-width="2.78" stroke-linejoin="round" stroke-linecap="round" marker-start="url(#mr)" marker-mid="url(#mr)" marker-end="url(#mr)"/>
<polygon points="124.2,728.6 127.8,728.6 113.5,807.5 107.1,807.5" fill="#f00"/>
<polyline points="479.0,18.6 478.0,20.1 477.0,21.7 475.5,23.3 474.0,24.9 472.5,26.4 471.5,28.0 469.5,30.4 467.0,34.3 465.0,38.3 463.0,42.2 461.5,46.2 460.0,50.1 458.5,54.1 457.0,58.0 448.8,65.9 442.9,73.8 433.8,81.7 421.5,89.6 409.2,97.4 388.4,117.2 373.0,136.9 340.7,176.3 316.0,215.8 298.9,255.2 286.6,294.7 273.7,334.1 239.6,413.0 200.4,491.9 162.1,570.8 133.6,649.7 121.2,728.6 107.6,807.5" fill="none" stroke="#008000" stroke-width="2.78" stroke-linejoin="round" stroke-linecap="round" marker-start="url(#mg)" marker-mid="url(#mg)" marker-end="url(#mg)"/>
<polyline points="486.6,18.9 486.6,19.8 486.6,20.6 486.6,21.6 486.6,22.6 486.6,23.6 486.6,24.8 486.6,26.1 486.6,27.5 486.6,29.2 486.6,31.0 486.6,33.1 486.6,35.6 486.6,38.4 487.0,41.8 486.5,45.7 484.0,50.4 476.7,55.9 463.8,62.5 453.1,70.5 442.4,80.0 431.7,91.4 418.3,105.1 400.4,121.6 377.5,141.5 349.5,165.4 325.3,194.1 306.6,228.4 292.5,269.5 272.5,318.5 250.3,376.7 219.6,445.4 184.6,526.3 150.5,620.7 113.2,730.4" fill="none" stroke="#f0f" stroke-width="2.78" stroke-linejoin="round" stroke-linecap="round" marker-start="url(#mm)" marker-mid="url(#mm)" marker-end="url(#mm)"/>
<polyline points="488.4,18.9 488.4,19.8 488.4,20.6 488.4,21.6 488.4,22.6 488.4,23.6 488.4,24.8 488.4,26.1 488.4,27.5 488.4,29.2 488.4,31.0 488.4,33.1 488.4,35.6 488.4,38.4 487.0,41.8 486.5,45.7 484.0,50.4 476.7,55.9 463.8,62.5 453.1,70.5 442.4,80.0 431.7,91.4 418.3,105.1 400.4,121.6 377.5,141.5 349.5,165.4 325.3,194.1 306.6,228.4 292.5,269.5 272.5,318.5 250.3,376.7 219.6,445.4 184.6,526.3 150.5,620.7 113.2,730.4" fill="none" stroke="#f0f" stroke-width="2.78" stroke-linejoin="round" stroke-linecap="round" marker-start="url(#mm)" marker-mid="url(#mm)" marker-end="url(#mm)"/>
</g>
<g clip-path="url(#c1)">
<polyline points="701.3,19.3 702.3,23.2 704.6,27.2 721.8,28.7 749.9,31.4 772.3,34.0 797.5,36.3 817.9,38.8 838.1,42.5 849.0,46.1 857.1,49.8 863.9,53.5 873.3,57.3 877.4,61.0 882.4,64.7 890.2,68.5 896.2,72.5 906.3,76.8 915.0,81.1 924.1,86.0 930.8,91.4 937.1,96.9 938.0,102.4 939.4,107.9 941.2,112.6 941.0,117.4 942.9,121.7 946.7,125.7 946.0,129.6 948.1,133.6 948.7,137.5 946.9,141.4 944.5,145.4 943.0,149.3 936.5,153.3 931.4,157.2 927.3,161.1 923.3,165.1 919.3,169.0 916.3,173.0 914.1,176.9 908.5,180.8 904.3,184.8 898.5,188.7 895.8,192.7 892.0,196.6 891.3,200.5 888.2,204.5 886.1,208.4 884.1,212.4 881.9,216.3 879.3,220.2 879.2,224.2 875.9,228.1 874.5,232.1 873.6,236.0 871.8,239.9 871.0,243.9 870.0,247.8 867.9,251.8 866.2,255.7 863.9,259.6 862.4,263.6 858.1,267.5 857.5,271.5 853.6,275.4 850.6,279.3 848.7,283.3 845.6,287.2 843.5,291.2 841.2,295.1 835.8,299.0 834.9,303.0 833.9,306.9 830.3,310.9 827.6,314.8 823.4,318.7 818.7,322.7 815.5,326.6 813.5,330.6 810.3,334.5 805.8,338.4 802.9,342.4 800.2,346.3 795.4,350.3 793.4,354.2 791.7,358.1 789.7,362.1 785.5,366.0 784.7,370.0 780.4,373.9 777.8,377.8 774.2,381.8 774.3,385.7 770.7,389.7 770.4,393.6 765.2,397.5 761.3,401.5 755.9,405.4 754.8,409.4 749.5,413.3 747.2,417.2 743.0,421.2 743.0,425.1 740.5,429.1 736.6,433.0 734.6,436.9 732.3,440.9 730.2,444.8 727.5,448.8 726.9,452.7 723.4,456.6 721.2,460.6 719.4,464.5 715.8,468.5 715.3,472.4 714.8,476.3 712.3,480.3 709.5,484.2 708.6,488.2 704.8,492.1 704.8,496.0 703.9,500.0 702.5,503.9 699.8,507.9 699.1,511.8 697.3,515.7 693.0,519.7 691.4,523.6 687.5,527.6 685.8,531.5 686.4,535.4 684.6,539.4 683.4,543.3 681.4,547.3 680.5,551.2 680.4,555.1 680.0,559.1 677.4,563.0 675.2,567.0 676.4,570.9 674.7,574.8 673.5,578.8 671.9,582.7 672.3,586.7 669.3,590.6 668.4,594.5 665.5,598.5 665.5,602.4 664.4,606.4 663.9,610.3 662.9,614.2 660.7,618.2 661.5,622.1 658.1,626.1 657.4,630.0 656.8,633.9 654.4,637.9 654.7,641.8 653.5,645.8 651.7,649.7 652.6,653.6 650.3,657.6 649.6,661.5 647.8,665.5 646.4,669.4 646.3,673.3 645.7,677.3 644.8,681.2 644.9,685.2 641.5,689.1 641.7,693.0 640.6,697.0 642.7,700.9 640.8,704.9 640.5,708.8 640.0,712.7 641.6,716.7 640.5,720.6 641.0,724.6 639.2,728.5 641.7,732.4 641.1,736.4" fill="none" stroke="#0ff" stroke-width="7.0" stroke-linejoin="round" stroke-linecap="round"/>
<polyline points="695.6,19.3 701.0,23.2 704.6,27.2 721.6,29.6 750.1,31.4 772.0,34.0 796.8,36.3 819.8,38.8 836.6,42.5 847.8,46.1 856.3,49.8 864.1,53.5 872.2,57.3 878.4,61.0 881.5,64.7 888.1,68.5 897.5,72.5 904.5,77.3 914.0,82.6 922.9,86.6 928.7,92.1 935.7,96.9 931.6,103.7 930.5,109.0 930.7,113.5 933.0,117.6 938.2,121.7 936.4,125.7 944.2,129.6 942.9,133.6 943.2,137.5 931.3,141.4 928.0,145.4 926.0,149.3 923.2,153.3 914.2,157.2 913.8,161.1 913.7,165.1 912.3,169.0 915.8,173.0 913.1,176.9 907.7,180.8 901.5,184.8 900.9,188.7 897.3,192.7 893.3,196.6 889.9,200.5 888.1,204.5 885.9,208.4 883.9,212.4 882.5,216.3 880.0,220.2 879.6,224.2 876.2,228.1 873.9,232.1 871.2,236.0 869.4,239.9 869.0,243.9 866.4,247.8 862.5,251.8 863.7,255.7 859.4,259.6 858.1,263.6 857.4,267.5 855.1,271.5 850.6,275.4 849.2,279.3 846.3,283.3 841.9,287.2 838.6,291.2 835.5,295.1 833.6,299.0 829.6,303.0 828.7,306.9 822.2,310.9 824.8,314.8 822.8,318.7 819.7,322.7 816.6,326.6 813.7,330.6 810.1,334.5 806.3,338.4 803.2,342.4 801.4,346.3 796.4,350.3 793.9,354.2 791.8,358.1 788.3,362.1 784.0,366.0 783.6,370.0 780.6,373.9 778.4,377.8 776.9,381.8 773.9,385.7 770.3,389.7 767.3,393.6 765.2,397.5 761.3,401.5 757.7,405.4 753.8,409.4 749.6,413.3 747.0,417.2 744.8,421.2 741.5,425.1 738.7,429.1 738.2,433.0 734.4,436.9 732.0,440.9 729.4,444.8 727.5,448.8 725.6,452.7 723.7,456.6 721.1,460.6 720.6,464.5 717.3,468.5 716.8,472.4 711.1,476.3 710.2,480.3 709.7,484.2 704.7,488.2 702.2,492.1 702.6,496.0 699.7,500.0 700.0,503.9 698.2,507.9 696.7,511.8 695.3,515.7 693.8,519.7 691.5,523.6 688.1,527.6 688.5,531.5 683.6,535.4 679.1,539.4 678.8,543.3 679.4,547.3 678.2,551.2 675.3,555.1 673.3,559.1 673.3,563.0 674.9,567.0 674.3,570.9 674.2,574.8 671.1,578.8 666.3,582.7 670.4,586.7 668.1,590.6 666.1,594.5 666.8,598.5 664.0,602.4 664.5,606.4 662.6,610.3 661.5,614.2 661.1,618.2 658.9,622.1 659.6,626.1 657.0,630.0 654.8,633.9 653.2,637.9 651.8,641.8 650.0,645.8 649.0,649.7 648.4,653.6 647.8,657.6 646.2,661.5 645.5,665.5 646.4,669.4 645.0,673.3 644.5,677.3 644.1,681.2 644.0,685.2 641.5,689.1 641.4,693.0 642.8,697.0 640.3,700.9 637.9,704.9 639.0,708.8 639.1,712.7 637.9,716.7 640.0,720.6 640.3,724.6 639.5,728.5 639.4,732.4 639.0,736.4" fill="none" stroke="#0ff" stroke-width="7.0" stroke-linejoin="round" stroke-linecap="round"/>
<polyline points="700.1,19.3 700.1,23.2 705.7,27.2 722.9,29.6 749.6,32.4 772.8,37.2 797.1,42.0 817.4,47.4 836.6,50.0 847.2,56.4 857.6,59.4 864.0,65.6 870.0,70.6 874.7,75.6 878.9,75.4 887.7,79.8 893.0,82.7 903.2,84.1 907.9,91.7 915.4,94.1 921.2,97.3 922.9,100.9 921.3,106.2 920.6,110.4 919.4,114.2 917.9,118.0 921.1,121.7 926.6,125.7 928.6,129.6 936.2,133.6 935.5,137.5 932.8,141.4 931.8,145.4 933.9,149.3 933.2,153.3 923.5,157.2 919.0,161.1 915.6,165.1 910.9,169.0 912.5,173.0 908.8,176.9 903.0,180.8 898.9,184.8 897.6,188.7 893.4,192.7 891.5,196.6 889.5,200.5 886.7,204.5 883.2,208.4 880.7,212.4 878.5,216.3 875.1,220.2 874.2,224.2 870.2,228.1 868.8,232.1 866.9,236.0 864.5,239.9 865.3,243.9 864.1,247.8 862.3,251.8 862.7,255.7 860.1,259.6 859.0,263.6 857.8,267.5 856.7,271.5 853.9,275.4 850.9,279.3 849.4,283.3 845.3,287.2 842.5,291.2 840.3,295.1 837.6,299.0 834.7,303.0 832.4,306.9 827.2,310.9 825.1,314.8 824.0,318.7 819.3,322.7 814.3,326.6 809.5,330.6 806.3,334.5 800.5,338.4 798.6,342.4 794.6,346.3 788.6,350.3 786.9,354.2 783.5,358.1 780.2,362.1 779.0,366.0 777.7,370.0 775.0,373.9 774.9,377.8 774.3,381.8 768.2,385.7 766.4,389.7 765.0,393.6 758.9,397.5 759.2,401.5 754.8,405.4 752.6,409.4 748.5,413.3 746.9,417.2 745.2,421.2 741.3,425.1 739.0,429.1 738.4,433.0 735.7,436.9 730.1,440.9 724.6,444.8 720.6,448.8 717.7,452.7 716.5,456.6 714.5,460.6 713.2,464.5 707.0,468.5 709.6,472.4 710.3,476.3 713.0,480.3 710.1,484.2 707.0,488.2 706.9,492.1 705.6,496.0 703.4,500.0 701.8,503.9 700.8,507.9 699.3,511.8 696.0,515.7 693.8,519.7 690.8,523.6 686.6,527.6 684.2,531.5 683.7,535.4 681.0,539.4 677.6,543.3 675.8,547.3 674.7,551.2 673.6,555.1 670.4,559.1 672.4,563.0 670.8,567.0 669.4,570.9 670.2,574.8 672.1,578.8 671.4,582.7 669.2,586.7 668.4,590.6 667.4,594.5 665.3,598.5 665.3,602.4 661.3,606.4 659.3,610.3 657.7,614.2 655.9,618.2 653.4,622.1 654.5,626.1 655.1,630.0 652.9,633.9 652.4,637.9 651.3,641.8 652.2,645.8 651.5,649.7 650.9,653.6 650.0,657.6 647.9,661.5 648.2,665.5 646.2,669.4 643.8,673.3 643.2,677.3 642.2,681.2 641.2,685.2 642.4,689.1 643.3,693.0 643.4,697.0 640.9,700.9 640.3,704.9 639.3,708.8 640.7,712.7 639.6,716.7 638.9,720.6 639.5,724.6 639.5,728.5 637.9,732.4 639.7,736.4" fill="none" stroke="#0ff" stroke-width="7.0" stroke-linejoin="round" stroke-linecap="round"/>
<polyline points="693.5,19.3 694.9,23.2 702.3,27.2 721.7,30.4 750.1,35.1 771.7,39.6 796.9,44.6 818.8,46.4 837.7,47.2 848.5,49.7 858.1,51.7 864.7,59.4 872.3,57.3 878.6,61.0 881.9,64.7 888.8,68.5 896.5,74.8 908.1,76.8 913.6,83.7 923.6,86.0 929.8,91.7 932.4,98.0 936.0,102.8 935.4,108.3 937.8,112.7 935.1,117.5 936.1,121.7 940.0,125.7 943.8,129.6 945.1,133.6 946.4,137.5 946.1,141.4 945.7,145.4 941.2,149.3 936.5,153.3 929.0,157.2 923.7,161.1 921.2,165.1 917.2,169.0 913.4,173.0 904.9,176.9 901.5,180.8 899.2,184.8 892.9,188.7 889.7,192.7 890.1,196.6 887.6,200.5 887.4,204.5 884.2,208.4 883.4,212.4 883.2,216.3 880.0,220.2 879.5,224.2 875.9,228.1 874.3,232.1 873.0,236.0 869.0,239.9 866.2,243.9 866.2,247.8 862.2,251.8 859.0,255.7 856.4,259.6 851.4,263.6 850.1,267.5 848.3,271.5 843.5,275.4 840.1,279.3 838.0,283.3 840.0,287.2 840.2,291.2 835.1,295.1 834.9,299.0 832.3,303.0 831.6,306.9 828.5,310.9 822.3,314.8 817.9,318.7 815.1,322.7 812.8,326.6 808.5,330.6 803.8,334.5 800.8,338.4 794.8,342.4 792.4,346.3 792.4,350.3 788.6,354.2 785.2,358.1 782.5,362.1 779.3,366.0 775.5,370.0 775.0,373.9 773.7,377.8 768.6,381.8 765.7,385.7 763.3,389.7 760.6,393.6 757.1,397.5 756.5,401.5 754.5,405.4 749.9,409.4 745.3,413.3 741.7,417.2 738.6,421.2 735.0,425.1 735.2,429.1 733.1,433.0 724.8,436.9 720.1,440.9 719.1,444.8 713.7,448.8 716.2,452.7 717.6,456.6 712.8,460.6 711.9,464.5 711.4,468.5 710.3,472.4 709.6,476.3 709.0,480.3 705.6,484.2 700.5,488.2 700.6,492.1 697.8,496.0 698.3,500.0 698.8,503.9 696.1,507.9 690.1,511.8 688.2,515.7 687.0,519.7 685.8,523.6 685.1,527.6 681.4,531.5 681.6,535.4 680.8,539.4 680.7,543.3 679.3,547.3 679.5,551.2 675.3,555.1 677.0,559.1 675.0,563.0 672.1,567.0 672.4,570.9 670.4,574.8 668.8,578.8 666.5,582.7 665.3,586.7 663.3,590.6 663.3,594.5 661.8,598.5 662.1,602.4 660.4,606.4 660.7,610.3 657.8,614.2 658.5,618.2 656.6,622.1 659.2,626.1 656.3,630.0 656.2,633.9 656.6,637.9 653.5,641.8 654.4,645.8 653.4,649.7 651.8,653.6 652.1,657.6 648.9,661.5 646.4,665.5 646.1,669.4 645.5,673.3 643.4,677.3 641.8,681.2 643.5,685.2 640.7,689.1 641.5,693.0 639.9,697.0 639.7,700.9 638.8,704.9 638.2,708.8 638.0,712.7 638.5,716.7 639.0,720.6 639.1,724.6 641.6,728.5 641.7,732.4 642.3,736.4" fill="none" stroke="#0ff" stroke-width="7.0" stroke-linejoin="round" stroke-linecap="round"/>
<polyline points="696.4,19.3 696.9,23.2 703.0,27.2 722.0,30.4 750.4,33.7 772.4,37.5 798.9,37.9 817.6,43.1 837.8,47.3 848.3,50.4 857.4,52.5 864.3,54.3 871.9,58.3 876.8,61.0 880.4,69.2 889.0,71.6 894.5,77.8 903.6,85.6 909.7,89.7 914.6,95.0 915.3,100.0 911.6,105.6 911.9,108.4 911.0,111.7 913.2,114.8 920.1,118.0 918.1,121.7 927.8,125.7 929.1,129.6 935.2,133.6 936.7,137.5 944.7,141.4 940.3,145.4 938.8,149.3 937.9,153.3 929.6,157.2 927.8,161.1 925.1,165.1 920.5,169.0 914.9,173.0 911.9,176.9 907.7,180.8 904.2,184.8 899.2,188.7 890.1,192.7 885.7,196.6 883.6,200.5 881.4,204.5 880.7,208.4 879.0,212.4 877.6,216.3 876.8,220.2 875.5,224.2 874.2,228.1 872.8,232.1 867.7,236.0 867.5,239.9 864.7,243.9 862.6,247.8 857.3,251.8 862.1,255.7 860.1,259.6 855.3,263.6 849.5,267.5 848.0,271.5 847.9,275.4 846.3,279.3 844.2,283.3 841.9,287.2 838.8,291.2 835.2,295.1 833.7,299.0 829.7,303.0 827.4,306.9 823.0,310.9 819.2,314.8 814.8,318.7 810.7,322.7 807.9,326.6 806.9,330.6 800.2,334.5 797.6,338.4 797.7,342.4 790.2,346.3 789.8,350.3 783.6,354.2 782.4,358.1 779.9,362.1 778.9,366.0 776.9,370.0 771.7,373.9 768.9,377.8 763.1,381.8 763.9,385.7 763.4,389.7 763.1,393.6 757.7,397.5 754.3,401.5 753.9,405.4 749.4,409.4 743.1,413.3 741.1,417.2 733.9,421.2 730.7,425.1 729.7,429.1 724.8,433.0 726.0,436.9 722.2,440.9 724.1,444.8 719.7,448.8 717.9,452.7 714.8,456.6 713.1,460.6 714.0,464.5 708.2,468.5 708.6,472.4 704.2,476.3 703.4,480.3 700.4,484.2 698.6,488.2 697.0,492.1 696.8,496.0 697.3,500.0 694.9,503.9 690.4,507.9 688.8,511.8 688.6,515.7 683.6,519.7 683.2,523.6 680.3,527.6 677.6,531.5 677.7,535.4 679.6,539.4 678.0,543.3 675.6,547.3 678.3,551.2 677.0,555.1 672.7,559.1 675.5,563.0 671.2,567.0 671.3,570.9 671.3,574.8 672.7,578.8 669.8,582.7 670.3,586.7 670.2,590.6 668.3,594.5 666.8,598.5 667.3,602.4 664.0,606.4 663.2,610.3 660.1,614.2 658.2,618.2 656.1,622.1 654.3,626.1 655.4,630.0 654.2,633.9 653.0,637.9 652.3,641.8 652.1,645.8 649.8,649.7 649.7,653.6 649.6,657.6 647.5,661.5 646.5,665.5 645.9,669.4 644.4,673.3 643.6,677.3 643.0,681.2 641.4,685.2 642.6,689.1 641.0,693.0 640.4,697.0 639.9,700.9 640.6,704.9 638.2,708.8 639.1,712.7 638.2,716.7 637.1,720.6 636.5,724.6 639.0,728.5 638.5,732.4 638.7,736.4" fill="none" stroke="#0ff" stroke-width="7.0" stroke-linejoin="round" stroke-linecap="round"/>
<polyline points="697.6,19.3 698.6,23.2 702.8,27.2 721.1,30.6 748.7,35.9 771.6,40.4 796.7,45.0 818.9,47.9 835.8,49.1 847.8,53.3 856.7,56.6 865.3,63.0 870.2,67.8 875.2,70.3 882.0,73.5 887.9,75.9 895.4,77.1 905.6,81.0 914.2,83.6 925.1,86.0 931.5,91.4 936.2,96.9 937.6,102.4 938.6,107.9 937.6,112.9 934.8,117.5 936.2,121.7 930.6,125.7 928.6,129.6 926.8,133.6 930.6,137.5 929.2,141.4 934.0,145.4 933.5,149.3 924.7,153.3 924.6,157.2 921.0,161.1 920.6,165.1 913.8,169.0 904.7,173.0 899.8,176.9 889.9,180.8 891.3,184.8 885.9,188.7 879.1,192.7 877.7,196.6 878.3,200.5 877.2,204.5 877.8,208.4 880.7,212.4 878.0,216.3 878.3,220.2 877.9,224.2 876.9,228.1 873.0,232.1 869.3,236.0 865.9,239.9 862.5,243.9 861.3,247.8 857.7,251.8 857.0,255.7 854.0,259.6 851.8,263.6 851.8,267.5 851.2,271.5 847.3,275.4 846.1,279.3 845.6,283.3 843.1,287.2 839.2,291.2 837.3,295.1 834.4,299.0 830.8,303.0 827.8,306.9 825.6,310.9 819.5,314.8 816.9,318.7 815.1,322.7 811.4,326.6 809.6,330.6 806.7,334.5 806.1,338.4 799.1,342.4 798.2,346.3 793.7,350.3 789.2,354.2 785.5,358.1 780.9,362.1 776.5,366.0 775.6,370.0 775.1,373.9 771.4,377.8 771.0,381.8 765.0,385.7 765.2,389.7 761.0,393.6 758.8,397.5 750.3,401.5 747.2,405.4 746.6,409.4 739.4,413.3 738.7,417.2 732.2,421.2 732.9,425.1 728.8,429.1 729.5,433.0 726.4,436.9 721.1,440.9 720.9,444.8 718.6,448.8 717.8,452.7 715.3,456.6 714.8,460.6 715.3,464.5 712.2,468.5 713.4,472.4 709.6,476.3 706.8,480.3 708.2,484.2 706.5,488.2 704.9,492.1 701.7,496.0 696.8,500.0 694.5,503.9 691.3,507.9 688.2,511.8 684.1,515.7 682.4,519.7 677.6,523.6 678.0,527.6 680.6,531.5 678.4,535.4 679.0,539.4 678.6,543.3 674.9,547.3 673.6,551.2 674.6,555.1 673.9,559.1 673.0,563.0 673.7,567.0 672.4,570.9 670.3,574.8 667.4,578.8 665.3,582.7 666.5,586.7 663.2,590.6 663.8,594.5 663.2,598.5 659.9,602.4 660.2,606.4 662.4,610.3 661.9,614.2 658.0,618.2 658.0,622.1 657.1,626.1 654.3,630.0 654.1,633.9 655.1,637.9 653.1,641.8 651.2,645.8 651.5,649.7 650.2,653.6 649.3,657.6 649.2,661.5 647.9,665.5 644.6,669.4 645.2,673.3 643.4,677.3 644.6,681.2 644.2,685.2 644.0,689.1 641.9,693.0 639.4,697.0 640.6,700.9 640.1,704.9 640.1,708.8 638.4,712.7 638.2,716.7 638.5,720.6 640.4,724.6 640.3,728.5 641.3,732.4 640.6,736.4" fill="none" stroke="#0ff" stroke-width="7.0" stroke-linejoin="round" stroke-linecap="round"/>
<polyline points="692.1,19.3 693.0,23.2 699.2,27.2 722.4,31.6 748.4,37.0 771.2,41.6 798.1,43.3 818.3,48.7 837.2,56.3 847.5,58.1 856.9,58.9 864.3,66.1 869.2,70.4 873.6,74.0 881.4,75.0 888.6,75.3 894.6,78.8 905.8,79.5 914.3,83.6 919.6,89.2 925.6,94.1 932.1,98.1 937.3,102.5 937.4,108.2 939.3,112.6 935.4,117.5 934.0,121.7 933.5,125.7 934.3,129.6 936.1,133.6 928.2,137.5 921.7,141.4 917.3,145.4 910.5,149.3 909.1,153.3 904.8,157.2 900.2,161.1 900.8,165.1 899.5,169.0 900.4,173.0 899.4,176.9 897.3,180.8 891.0,184.8 890.9,188.7 887.7,192.7 884.8,196.6 882.0,200.5 880.9,204.5 876.6,208.4 873.9,212.4 873.0,216.3 872.4,220.2 871.6,224.2 868.8,228.1 870.8,232.1 868.4,236.0 869.0,239.9 865.0,243.9 864.6,247.8 861.7,251.8 862.1,255.7 858.0,259.6 855.6,263.6 854.8,267.5 851.5,271.5 852.0,275.4 845.7,279.3 841.0,283.3 838.3,287.2 835.7,291.2 830.0,295.1 827.8,299.0 822.3,303.0 821.9,306.9 820.3,310.9 820.1,314.8 817.1,318.7 815.8,322.7 807.9,326.6 803.8,330.6 800.7,334.5 792.5,338.4 789.2,342.4 786.9,346.3 782.0,350.3 779.6,354.2 774.9,358.1 773.4,362.1 772.7,366.0 772.6,370.0 770.5,373.9 766.9,377.8 768.2,381.8 766.4,385.7 764.0,389.7 764.0,393.6 755.8,397.5 751.2,401.5 746.4,405.4 746.0,409.4 742.5,413.3 739.0,417.2 738.4,421.2 735.8,425.1 736.4,429.1 733.9,433.0 730.7,436.9 726.9,440.9 726.5,444.8 725.1,448.8 720.2,452.7 715.2,456.6 714.1,460.6 711.7,464.5 711.3,468.5 707.3,472.4 704.1,476.3 704.6,480.3 702.2,484.2 704.9,488.2 698.8,492.1 700.7,496.0 701.2,500.0 699.9,503.9 697.7,507.9 690.6,511.8 692.1,515.7 686.4,519.7 684.2,523.6 681.4,527.6 680.9,531.5 676.2,535.4 676.0,539.4 677.0,543.3 674.8,547.3 675.4,551.2 672.6,555.1 669.9,559.1 670.5,563.0 670.0,567.0 668.4,570.9 666.7,574.8 665.6,578.8 663.5,582.7 662.5,586.7 664.5,590.6 662.6,594.5 659.9,598.5 658.4,602.4 660.8,606.4 658.7,610.3 659.4,614.2 656.8,618.2 656.4,622.1 653.4,626.1 652.9,630.0 652.2,633.9 649.8,637.9 648.5,641.8 648.9,645.8 647.0,649.7 645.5,653.6 646.4,657.6 645.9,661.5 644.7,665.5 646.1,669.4 644.0,673.3 642.6,677.3 642.4,681.2 642.2,685.2 641.4,689.1 639.9,693.0 641.7,697.0 641.4,700.9 641.4,704.9 639.8,708.8 638.7,712.7 639.8,716.7 639.7,720.6 639.4,724.6 637.6,728.5 638.0,732.4 638.4,736.4" fill="none" stroke="#0ff" stroke-width="7.0" stroke-linejoin="round" stroke-linecap="round"/>
<polyline points="697.3,19.3 697.7,23.2 701.3,27.2 722.8,32.6 749.6,38.2 771.9,46.4 797.9,53.1 817.5,57.9 837.2,62.2 847.9,66.4 856.5,70.6 864.1,72.8 867.7,74.3 873.9,78.1 880.6,79.6 887.1,85.0 894.2,87.8 899.4,93.7 906.2,94.6 911.9,97.3 910.2,102.5 911.1,105.3 914.2,107.7 917.9,110.8 919.8,114.3 917.6,118.0 912.1,121.7 914.0,125.7 915.2,129.6 915.8,133.6 918.6,137.5 919.5,141.4 920.6,145.4 921.3,149.3 923.3,153.3 926.6,157.2 918.0,161.1 914.6,165.1 908.4,169.0 901.3,173.0 897.4,176.9 892.8,180.8 886.7,184.8 883.7,188.7 881.2,192.7 879.7,196.6 876.5,200.5 875.2,204.5 875.4,208.4 872.9,212.4 872.6,216.3 867.3,220.2 868.2,224.2 867.5,228.1 866.2,232.1 866.5,236.0 864.8,239.9 866.0,243.9 862.5,247.8 864.1,251.8 861.8,255.7 859.1,259.6 857.7,263.6 854.2,267.5 854.4,271.5 852.9,275.4 851.5,279.3 846.4,283.3 843.7,287.2 839.7,291.2 834.3,295.1 828.0,299.0 823.9,303.0 820.3,306.9 816.5,310.9 813.7,314.8 809.1,318.7 808.0,322.7 803.6,326.6 799.6,330.6 798.6,334.5 796.1,338.4 793.7,342.4 790.4,346.3 786.5,350.3 784.5,354.2 782.9,358.1 778.4,362.1 772.2,366.0 773.3,370.0 771.4,373.9 766.9,377.8 761.5,381.8 758.5,385.7 759.7,389.7 757.6,393.6 754.4,397.5 748.0,401.5 741.5,405.4 738.1,409.4 735.4,413.3 736.2,417.2 730.2,421.2 728.5,425.1 724.9,429.1 725.5,433.0 723.6,436.9 723.9,440.9 721.0,444.8 716.7,448.8 718.3,452.7 715.0,456.6 713.4,460.6 713.5,464.5 710.2,468.5 706.2,472.4 705.9,476.3 703.1,480.3 700.9,484.2 696.4,488.2 695.5,492.1 693.6,496.0 694.8,500.0 691.4,503.9 689.6,507.9 687.4,511.8 683.3,515.7 681.4,519.7 679.4,523.6 677.3,527.6 675.2,531.5 674.1,535.4 673.6,539.4 674.6,543.3 674.1,547.3 673.9,551.2 676.7,555.1 673.6,559.1 672.9,563.0 672.1,567.0 670.9,570.9 666.9,574.8 665.0,578.8 666.8,582.7 663.9,586.7 664.0,590.6 660.3,594.5 662.6,598.5 661.8,602.4 663.2,606.4 660.2,610.3 656.3,614.2 656.1,618.2 653.9,622.1 653.4,626.1 651.6,630.0 651.0,633.9 650.7,637.9 650.3,641.8 649.1,645.8 648.5,649.7 648.0,653.6 647.6,657.6 646.9,661.5 645.1,665.5 642.8,669.4 643.9,673.3 644.6,677.3 643.4,681.2 642.8,685.2 641.2,689.1 639.6,693.0 639.2,697.0 640.3,700.9 640.0,704.9 639.7,708.8 638.9,712.7 638.3,716.7 638.0,720.6 638.4,724.6 638.3,728.5 638.0,732.4 637.4,736.4" fill="none" stroke="#0ff" stroke-width="7.0" stroke-linejoin="round" stroke-linecap="round"/>
<polyline points="693.6,19.3 697.7,23.2 699.7,27.2 723.4,33.1 749.7,39.6 771.2,44.9 797.8,53.1 817.5,57.9 837.2,62.2 847.9,66.4 856.3,70.6 863.9,74.2 867.4,77.6 873.7,80.9 881.4,83.1 886.4,81.6 892.1,86.6 902.3,88.7 908.8,93.1 909.8,98.4 915.1,100.7 911.3,105.6 910.4,108.7 909.5,111.9 909.8,115.1 911.5,118.2 912.3,121.7 914.5,125.7 916.7,129.6 917.3,133.6 916.0,137.5 917.5,141.4 921.1,145.4 915.9,149.3 918.5,153.3 910.4,157.2 906.3,161.1 903.0,165.1 902.5,169.0 894.0,173.0 893.1,176.9 887.9,180.8 886.2,184.8 882.6,188.7 878.8,192.7 878.3,196.6 875.9,200.5 875.9,204.5 874.9,208.4 873.2,212.4 869.2,216.3 872.7,220.2 869.2,224.2 869.8,228.1 869.5,232.1 867.8,236.0 867.4,239.9 865.8,243.9 865.7,247.8 864.1,251.8 861.0,255.7 857.1,259.6 854.4,263.6 853.2,267.5 846.6,271.5 845.4,275.4 841.4,279.3 838.3,283.3 837.9,287.2 835.1,291.2 830.9,295.1 827.4,299.0 824.8,303.0 821.3,306.9 819.4,310.9 815.1,314.8 812.0,318.7 806.3,322.7 804.3,326.6 800.0,330.6 797.2,334.5 795.4,338.4 790.6,342.4 786.8,346.3 783.3,350.3 781.0,354.2 777.4,358.1 774.3,362.1 770.7,366.0 767.7,370.0 767.3,373.9 765.5,377.8 761.2,381.8 758.4,385.7 754.8,389.7 754.9,393.6 748.8,397.5 745.3,401.5 742.3,405.4 736.7,409.4 734.9,413.3 735.5,417.2 731.0,421.2 726.5,425.1 728.0,429.1 726.3,433.0 728.4,436.9 724.1,440.9 721.2,444.8 720.0,448.8 719.1,452.7 717.1,456.6 710.8,460.6 709.1,464.5 704.9,468.5 705.7,472.4 706.9,476.3 705.8,480.3 704.7,484.2 699.3,488.2 696.7,492.1 698.8,496.0 693.7,500.0 693.0,503.9 689.4,507.9 685.6,511.8 683.0,515.7 682.7,519.7 682.7,523.6 677.1,527.6 678.9,531.5 678.6,535.4 675.2,539.4 675.6,543.3 675.6,547.3 674.4,551.2 672.2,555.1 670.9,559.1 669.6,563.0 667.4,567.0 666.4,570.9 664.3,574.8 664.4,578.8 662.5,582.7 661.5,586.7 662.4,590.6 661.3,594.5 658.4,598.5 657.6,602.4 659.1,606.4 658.6,610.3 656.3,614.2 655.0,618.2 653.2,622.1 653.0,626.1 651.3,630.0 652.0,633.9 649.4,637.9 647.7,641.8 647.9,645.8 647.2,649.7 645.6,653.6 647.3,657.6 644.3,661.5 644.3,665.5 643.6,669.4 644.3,673.3 643.5,677.3 642.9,681.2 642.4,685.2 641.2,689.1 641.1,693.0 641.3,697.0 640.0,700.9 636.8,704.9 638.2,708.8 637.4,712.7 638.6,716.7 638.0,720.6 636.7,724.6 636.1,728.5 636.6,732.4 636.7,736.4" fill="none" stroke="#0ff" stroke-width="7.0" stroke-linejoin="round" stroke-linecap="round"/>
<polyline points="690.8,19.3 690.0,23.2 698.1,27.2 720.9,34.9 749.6,41.4 773.9,48.0 795.5,53.1 817.0,57.9 837.8,62.2 848.1,66.4 856.8,70.6 863.4,74.2 867.7,77.6 872.8,80.9 882.5,84.3 886.2,87.6 892.5,90.8 899.9,93.7 907.1,96.7 909.1,99.6 910.8,102.6 910.8,105.6 909.9,108.8 909.2,111.9 909.5,115.1 909.1,118.2 910.6,121.7 913.1,125.7 915.3,129.6 917.6,133.6 916.5,137.5 916.0,141.4 915.4,145.4 911.7,149.3 907.4,153.3 903.8,157.2 902.6,161.1 899.0,165.1 896.2,169.0 892.8,173.0 891.8,176.9 888.3,180.8 887.2,184.8 882.3,188.7 880.1,192.7 878.0,196.6 877.1,200.5 873.3,204.5 874.1,208.4 871.3,212.4 869.6,216.3 867.8,220.2 866.1,224.2 864.5,228.1 861.5,232.1 862.4,236.0 860.6,239.9 858.5,243.9 857.8,247.8 858.2,251.8 855.3,255.7 852.6,259.6 852.0,263.6 847.7,267.5 845.8,271.5 842.5,275.4 839.8,279.3 837.6,283.3 834.5,287.2 830.5,291.2 828.1,295.1 825.5,299.0 822.3,303.0 819.8,306.9 816.4,310.9 813.1,314.8 810.5,318.7 806.1,322.7 803.6,326.6 799.6,330.6 795.4,334.5 792.4,338.4 789.2,342.4 786.1,346.3 783.1,350.3 779.5,354.2 775.7,358.1 774.9,362.1 772.0,366.0 768.9,370.0 767.0,373.9 764.0,377.8 761.0,381.8 758.7,385.7 758.1,389.7 754.2,393.6 750.5,397.5 745.5,401.5 742.4,405.4 739.7,409.4 734.4,413.3 732.3,417.2 729.9,421.2 727.0,425.1 725.3,429.1 721.9,433.0 719.7,436.9 716.4,440.9 716.5,444.8 712.8,448.8 710.9,452.7 710.1,456.6 706.9,460.6 705.5,464.5 703.1,468.5 702.0,472.4 699.9,476.3 698.9,480.3 696.6,484.2 694.4,488.2 693.0,492.1 691.8,496.0 690.2,500.0 690.0,503.9 688.4,507.9 686.1,511.8 682.8,515.7 681.8,519.7 678.1,523.6 677.3,527.6 676.0,531.5 674.3,535.4 673.0,539.4 671.9,543.3 672.8,547.3 670.2,551.2 669.4,555.1 669.4,559.1 668.1,563.0 667.7,567.0 665.1,570.9 664.2,574.8 666.5,578.8 662.9,582.7 661.6,586.7 660.9,590.6 660.6,594.5 658.1,598.5 658.4,602.4 657.3,606.4 657.0,610.3 655.5,614.2 653.9,618.2 652.6,622.1 650.3,626.1 651.9,630.0 649.0,633.9 648.8,637.9 649.4,641.8 646.7,645.8 646.5,649.7 645.2,653.6 645.2,657.6 644.0,661.5 642.9,665.5 643.7,669.4 641.7,673.3 640.2,677.3 640.2,681.2 640.2,685.2 638.2,689.1 639.0,693.0 638.6,697.0 639.3,700.9 636.9,704.9 637.5,708.8 635.6,712.7 636.6,716.7 637.0,720.6 637.2,724.6 636.8,728.5 636.8,732.4 636.4,736.4" fill="none" stroke="#0ff" stroke-width="7.0" stroke-linejoin="round" stroke-linecap="round"/>
<circle cx="685.5" cy="25.3" r="4.2" fill="#0ff"/>
<polyline points="698.0,19.3 699.2,23.2 703.6,27.2 722.0,31.1 749.6,35.1 772.1,39.0 797.2,42.9 818.3,46.9 836.9,50.8 848.1,54.8 857.3,58.7 863.9,62.6 869.6,66.6 874.4,70.5 880.4,74.5 886.6,78.4 893.9,82.3 901.7,86.3 909.5,90.2 916.3,94.2 921.4,98.1 925.1,102.0 926.1,106.0 926.9,109.9 927.1,113.9 927.5,117.8 929.2,121.7 931.1,125.7 933.4,129.6 934.7,133.6 935.3,137.5 934.9,141.4 934.5,145.4 931.4,149.3 925.8,153.3 921.2,157.2 917.5,161.1 915.4,165.1 912.2,169.0 907.8,173.0 903.6,176.9 900.0,180.8 897.9,184.8 892.4,188.7 888.4,192.7 883.0,196.6 883.2,200.5 881.2,204.5 881.1,208.4 879.5,212.4 877.7,216.3 875.0,220.2 872.8,224.2 871.8,228.1 870.9,232.1 869.1,236.0 865.2,239.9 865.1,243.9 863.0,247.8 862.1,251.8 858.8,255.7 856.3,259.6 854.7,263.6 854.5,267.5 854.1,271.5 853.3,275.4 850.9,279.3 846.1,283.3 842.3,287.2 839.6,291.2 840.8,295.1 835.9,299.0 829.7,303.0 824.8,306.9 823.4,310.9 821.0,314.8 817.8,318.7 813.7,322.7 808.7,326.6 804.7,330.6 802.3,334.5 802.7,338.4 800.7,342.4 797.5,346.3 793.2,350.3 788.0,354.2 782.6,358.1 779.8,362.1 779.4,366.0 779.8,370.0 780.4,373.9 776.6,377.8 771.1,381.8 767.1,385.7 766.1,389.7 764.3,393.6 757.7,397.5 752.8,401.5 751.3,405.4 748.0,409.4 743.6,413.3 739.3,417.2 736.7,421.2 732.9,425.1 731.5,429.1 729.9,433.0 728.1,436.9 722.3,440.9 722.3,444.8 719.9,448.8 720.9,452.7 715.6,456.6 715.3,460.6 711.7,464.5 711.2,468.5 708.7,472.4 709.6,476.3 706.3,480.3 703.8,484.2 700.6,488.2 702.5,492.1 700.0,496.0 699.2,500.0 694.5,503.9 695.1,507.9 693.5,511.8 692.0,515.7 689.4,519.7 686.6,523.6 683.7,527.6 681.8,531.5 678.3,535.4 677.3,539.4 675.3,543.3 675.6,547.3 675.9,551.2 676.2,555.1 676.0,559.1 675.3,563.0 671.4,567.0 670.3,570.9 668.1,574.8 669.1,578.8 666.5,582.7 665.8,586.7 665.6,590.6 666.0,594.5 664.5,598.5 663.1,602.4 662.0,606.4 661.9,610.3 660.7,614.2 659.0,618.2 657.2,622.1 655.7,626.1 654.6,630.0 653.3,633.9 652.3,637.9 650.9,641.8 649.7,645.8 648.5,649.7 647.7,653.6 647.1,657.6 645.6,661.5 645.2,665.5 644.5,669.4 644.2,673.3 643.4,677.3 642.6,681.2 641.6,685.2 641.2,689.1 640.3,693.0 640.2,697.0 639.8,700.9 639.4,704.9 638.8,708.8 638.1,712.7 638.5,716.7 638.3,720.6 638.3,724.6 638.3,728.5 638.6,732.4 638.6,736.4 638.5,740.3 638.4,744.3 639.1,748.2 639.1,752.1 639.0,756.1 638.4,760.0 637.9,764.0 638.0,767.9" fill="none" stroke="#00f" stroke-width="2.78" stroke-linejoin="round" stroke-linecap="round" marker-start="url(#mb)" marker-mid="url(#mb)" marker-end="url(#mb)"/>
<polyline points="690.4,18.6 690.4,20.1 690.4,21.7 690.4,23.3 690.4,24.9 690.4,26.4 690.4,28.0 690.9,30.4 691.4,34.3 698.4,38.3 733.4,42.2 783.4,46.2 824.9,50.1 840.8,54.1 851.2,58.0 859.9,65.9 870.0,73.8 881.5,81.7 898.0,89.6 912.1,97.4 923.9,117.2 921.5,136.9 895.7,176.3 877.0,215.8 849.9,255.2 828.2,294.7 799.9,334.1 747.4,413.0 701.3,491.9 669.9,570.8 644.6,649.7 637.5,728.6 636.4,807.5" fill="none" stroke="#f00" stroke-width="2.78" stroke-linejoin="round" stroke-linecap="round" marker-start="url(#mr)" marker-mid="url(#mr)" marker-end="url(#mr)"/>
<polyline points="692.0,18.6 692.0,20.1 692.0,21.7 692.0,23.3 692.0,24.9 692.0,26.4 692.0,28.0 692.5,30.4 693.0,34.3 700.0,38.3 735.0,42.2 785.0,46.2 826.5,50.1 842.4,54.1 852.8,58.0 861.5,65.9 871.6,73.8 883.1,81.7 899.6,89.6 913.7,97.4 925.5,117.2 923.1,136.9 896.6,176.3 877.2,215.8 850.1,255.2 828.4,294.7 800.1,334.1 747.6,413.0 701.5,491.9 670.1,570.8 644.8,649.7 637.7,728.6 636.6,807.5" fill="none" stroke="#f00" stroke-width="2.78" stroke-linejoin="round" stroke-linecap="round" marker-start="url(#mr)" marker-mid="url(#mr)" marker-end="url(#mr)"/>
<polyline points="693.6,18.6 693.6,20.1 693.6,21.7 693.6,23.3 693.6,24.9 693.6,26.4 693.6,28.0 694.1,30.4 694.6,34.3 701.6,38.3 736.6,42.2 786.6,46.2 828.1,50.1 844.0,54.1 854.4,58.0 863.1,65.9 873.2,73.8 884.7,81.7 901.2,89.6 915.3,97.4 927.1,117.2 924.7,136.9 897.5,176.3 877.4,215.8 850.3,255.2 828.6,294.7 800.3,334.1 747.8,413.0 701.7,491.9 670.3,570.8 645.0,649.7 637.9,728.6 636.8,807.5" fill="none" stroke="#f00" stroke-width="2.78" stroke-linejoin="round" stroke-linecap="round" marker-start="url(#mr)" marker-mid="url(#mr)" marker-end="url(#mr)"/>
<polygon points="635.9,728.6 639.5,728.6 640.6,807.5 632.6,807.5" fill="#f00"/>
<polyline points="699.0,18.6 699.0,20.1 699.5,21.7 700.0,23.3 700.0,24.9 700.5,26.4 701.0,28.0 703.0,30.4 717.0,34.3 732.0,38.3 745.0,42.2 755.0,46.2 765.0,50.1 775.0,54.1 786.0,58.0 808.5,65.9 832.0,73.8 845.4,81.7 856.6,89.6 868.3,97.4 888.4,117.2 900.1,136.9 900.7,176.3 871.9,215.8 854.3,255.2 845.4,294.7 832.5,334.1 786.7,413.0 721.5,491.9 666.0,570.8 634.2,649.7 633.0,728.6 628.3,807.5" fill="none" stroke="#008000" stroke-width="2.78" stroke-linejoin="round" stroke-linecap="round" marker-start="url(#mg)" marker-mid="url(#mg)" marker-end="url(#mg)"/>
<polyline points="650.9,18.9 650.9,19.8 650.9,20.6 650.9,21.6 650.9,22.6 650.9,23.6 650.9,24.8 650.9,26.1 650.9,27.5 650.9,29.2 650.9,31.0 653.3,33.1 665.4,35.6 690.4,38.4 724.2,41.8 743.1,45.7 761.3,50.4 781.4,55.9 805.5,62.5 837.3,70.5 872.5,80.0 901.3,91.4 922.5,105.1 933.1,121.6 929.4,141.5 915.5,165.4 894.3,194.1 867.6,228.4 843.7,269.5 810.5,318.5 783.6,376.7 741.3,445.4 691.3,526.3 648.3,620.7 625.4,730.4" fill="none" stroke="#f0f" stroke-width="2.78" stroke-linejoin="round" stroke-linecap="round" marker-start="url(#mm)" marker-mid="url(#mm)" marker-end="url(#mm)"/>
<polyline points="652.7,18.9 652.7,19.8 652.7,20.6 652.7,21.6 652.7,22.6 652.7,23.6 652.7,24.8 652.7,26.1 652.7,27.5 652.7,29.2 652.7,31.0 655.1,33.1 667.2,35.6 692.2,38.4 724.2,41.8 743.1,45.7 761.3,50.4 781.4,55.9 805.5,62.5 837.3,70.5 872.5,80.0 901.3,91.4 922.5,105.1 933.1,121.6 929.4,141.5 915.5,165.4 894.3,194.1 867.6,228.4 843.7,269.5 810.5,318.5 783.6,376.7 741.3,445.4 691.3,526.3 648.3,620.7 625.4,730.4" fill="none" stroke="#f0f" stroke-width="2.78" stroke-linejoin="round" stroke-linecap="round" marker-start="url(#mm)" marker-mid="url(#mm)" marker-end="url(#mm)"/>
</g>
<g clip-path="url(#c2)">
<polyline points="1104.2,19.3 1103.9,23.2 1105.6,27.2 1107.6,31.1 1112.7,35.1 1119.3,39.0 1122.8,42.9 1127.2,46.9 1132.6,50.8 1138.6,54.8 1143.5,58.7 1148.4,62.6 1152.9,66.6 1154.9,70.5 1160.0,74.5 1168.1,78.4 1175.7,82.3 1181.1,86.3 1186.8,90.2 1191.8,94.2 1197.5,98.1 1202.6,102.0 1205.4,106.0 1209.3,109.9 1215.1,113.9 1220.0,117.8 1223.6,121.7 1227.9,125.7 1233.3,129.6 1239.1,133.6 1244.2,137.5 1247.4,141.4 1250.0,145.4 1253.8,149.3 1258.4,153.3 1260.3,157.2 1260.6,161.1 1264.3,165.1 1267.8,169.0 1269.8,173.0 1272.9,176.9 1275.2,180.8 1276.1,184.8 1276.7,188.7 1279.0,192.7 1281.2,196.6 1283.0,200.5 1284.6,204.5 1285.9,208.4 1287.2,212.4 1288.4,216.3 1290.2,220.2 1291.9,224.2 1294.2,228.1 1295.0,232.1 1294.9,236.0 1297.4,239.9 1299.3,243.9 1299.7,247.8 1301.1,251.8 1302.8,255.7 1304.3,259.6 1305.0,263.6 1306.1,267.5 1306.4,271.5 1306.9,275.4 1308.5,279.3 1310.1,283.3 1311.4,287.2 1312.7,291.2 1313.9,295.1 1314.7,299.0 1315.0,303.0 1316.9,306.9 1319.4,310.9 1319.6,314.8 1320.8,318.7 1322.7,322.7 1323.7,326.6 1323.6,330.6 1324.2,334.5 1326.2,338.4 1329.1,342.4 1330.3,346.3 1330.4,350.3 1331.6,354.2 1332.8,358.1 1334.9,362.1 1335.3,366.0 1334.8,370.0 1337.6,373.9 1340.6,377.8 1341.1,381.8 1342.9,385.7 1345.1,389.7 1344.7,393.6 1345.3,397.5 1348.4,401.5 1349.4,405.4 1349.9,409.4 1352.1,413.3 1353.5,417.2 1353.5,421.2 1354.3,425.1 1355.3,429.1 1357.1,433.0 1358.0,436.9 1359.3,440.9 1360.4,444.8 1361.0,448.8 1362.1,452.7 1363.0,456.6 1365.5,460.6 1367.4,464.5 1368.7,468.5 1369.1,472.4 1369.5,476.3 1370.7,480.3 1372.1,484.2 1372.8,488.2 1374.2,492.1 1375.7,496.0 1376.8,500.0 1378.0,503.9 1378.8,507.9 1379.2,511.8 1379.6,515.7 1380.4,519.7 1381.5,523.6 1383.1,527.6 1384.7,531.5 1385.1,535.4 1387.4,539.4 1389.1,543.3 1388.9,547.3 1390.6,551.2 1389.4,555.1 1389.6,559.1 1392.9,563.0 1392.7,567.0 1393.2,570.9 1395.1,574.8 1395.4,578.8 1397.0,582.7 1397.2,586.7 1398.2,590.6 1399.8,594.5 1400.3,598.5 1402.0,602.4 1405.5,606.4 1406.3,610.3 1405.5,614.2 1406.3,618.2 1406.6,622.1 1407.8,626.1 1410.1,630.0 1411.1,633.9 1411.8,637.9 1412.6,641.8 1414.5,645.8 1414.8,649.7 1414.7,653.6 1417.0,657.6 1417.8,661.5 1417.9,665.5 1418.1,669.4 1419.7,673.3 1421.4,677.3 1421.9,681.2 1422.3,685.2 1424.3,689.1 1426.5,693.0 1426.9,697.0 1427.0,700.9 1428.0,704.9 1430.9,708.8 1432.7,712.7 1432.3,716.7 1433.7,720.6 1436.1,724.6 1437.3,728.5 1436.2,732.4 1436.6,736.4" fill="none" stroke="#0ff" stroke-width="7.0" stroke-linejoin="round" stroke-linecap="round"/>
<polyline points="1104.7,19.3 1106.8,23.2 1107.6,27.2 1109.7,31.1 1117.6,35.1 1125.2,39.0 1134.2,42.9 1135.5,46.9 1140.6,50.8 1147.3,54.8 1156.3,58.7 1160.6,62.6 1159.9,66.6 1159.5,70.5 1164.4,74.5 1169.8,78.4 1177.6,82.3 1184.0,86.3 1186.8,90.2 1193.1,94.2 1198.0,98.1 1205.5,102.0 1209.8,106.0 1214.5,109.9 1220.1,113.9 1223.4,117.8 1228.5,121.7 1231.5,125.7 1237.5,129.6 1241.1,133.6 1246.8,137.5 1249.6,141.4 1249.4,145.4 1253.7,149.3 1256.0,153.3 1259.9,157.2 1261.6,161.1 1265.9,165.1 1268.2,169.0 1272.9,173.0 1274.9,176.9 1277.0,180.8 1280.9,184.8 1282.1,188.7 1282.1,192.7 1282.4,196.6 1285.4,200.5 1285.7,204.5 1287.1,208.4 1288.2,212.4 1289.2,216.3 1289.9,220.2 1290.1,224.2 1292.9,228.1 1294.7,232.1 1295.2,236.0 1295.8,239.9 1297.0,243.9 1298.7,247.8 1302.0,251.8 1303.0,255.7 1302.4,259.6 1305.6,263.6 1306.8,267.5 1305.8,271.5 1306.3,275.4 1309.7,279.3 1309.9,283.3 1310.9,287.2 1312.6,291.2 1312.6,295.1 1314.0,299.0 1315.8,303.0 1318.4,306.9 1321.2,310.9 1323.5,314.8 1322.1,318.7 1323.4,322.7 1325.6,326.6 1326.9,330.6 1327.3,334.5 1327.5,338.4 1329.4,342.4 1330.1,346.3 1331.3,350.3 1332.8,354.2 1334.9,358.1 1336.5,362.1 1336.9,366.0 1338.8,370.0 1341.5,373.9 1343.9,377.8 1345.4,381.8 1345.3,385.7 1346.0,389.7 1349.1,393.6 1349.7,397.5 1350.8,401.5 1350.9,405.4 1351.2,409.4 1353.7,413.3 1353.6,417.2 1354.4,421.2 1356.4,425.1 1357.3,429.1 1357.7,433.0 1358.9,436.9 1359.0,440.9 1359.8,444.8 1360.9,448.8 1364.0,452.7 1366.8,456.6 1366.2,460.6 1366.9,464.5 1367.9,468.5 1367.8,472.4 1369.3,476.3 1370.2,480.3 1369.8,484.2 1372.5,488.2 1373.4,492.1 1373.9,496.0 1375.2,500.0 1375.9,503.9 1379.2,507.9 1379.4,511.8 1380.1,515.7 1381.4,519.7 1383.8,523.6 1383.8,527.6 1384.7,531.5 1386.7,535.4 1386.5,539.4 1387.0,543.3 1387.6,547.3 1388.7,551.2 1391.0,555.1 1393.5,559.1 1394.6,563.0 1394.2,567.0 1395.5,570.9 1395.5,574.8 1396.2,578.8 1397.5,582.7 1397.3,586.7 1401.6,590.6 1404.0,594.5 1405.4,598.5 1404.3,602.4 1404.4,606.4 1405.3,610.3 1406.2,614.2 1406.9,618.2 1408.2,622.1 1410.1,626.1 1409.3,630.0 1410.0,633.9 1411.3,637.9 1415.4,641.8 1416.8,645.8 1414.2,649.7 1416.0,653.6 1417.7,657.6 1418.3,661.5 1420.5,665.5 1421.4,669.4 1421.4,673.3 1421.3,677.3 1422.0,681.2 1423.4,685.2 1425.4,689.1 1426.9,693.0 1426.5,697.0 1428.2,700.9 1430.9,704.9 1433.1,708.8 1432.7,712.7 1434.3,716.7 1436.2,720.6 1436.8,724.6 1437.3,728.5 1436.9,732.4 1437.9,736.4" fill="none" stroke="#0ff" stroke-width="7.0" stroke-linejoin="round" stroke-linecap="round"/>
<polyline points="1110.6,19.3 1108.9,23.2 1108.9,27.2 1112.5,31.1 1119.5,35.1 1128.8,39.0 1130.9,42.9 1133.5,46.9 1143.4,50.8 1151.4,54.8 1155.5,58.7 1157.1,62.6 1160.6,66.6 1167.5,70.5 1171.4,74.5 1178.8,78.4 1184.5,82.3 1190.1,86.3 1195.5,90.2 1199.8,94.2 1202.1,98.1 1204.1,102.0 1211.4,106.0 1214.5,109.9 1217.6,113.9 1221.6,117.8 1225.3,121.7 1234.3,125.7 1241.5,129.6 1245.8,133.6 1250.9,137.5 1252.8,141.4 1255.0,145.4 1259.4,149.3 1260.2,153.3 1262.4,157.2 1266.1,161.1 1268.2,165.1 1267.7,169.0 1271.1,173.0 1273.0,176.9 1273.7,180.8 1278.0,184.8 1282.2,188.7 1284.0,192.7 1283.9,196.6 1286.5,200.5 1287.0,204.5 1287.1,208.4 1288.9,212.4 1290.0,216.3 1289.9,220.2 1291.3,224.2 1294.2,228.1 1296.0,232.1 1298.5,236.0 1301.0,239.9 1299.9,243.9 1300.5,247.8 1302.1,251.8 1303.0,255.7 1305.3,259.6 1305.3,263.6 1305.6,267.5 1308.4,271.5 1309.5,275.4 1311.8,279.3 1313.9,283.3 1314.1,287.2 1316.3,291.2 1317.3,295.1 1317.0,299.0 1317.2,303.0 1320.2,306.9 1323.8,310.9 1325.9,314.8 1326.7,318.7 1327.8,322.7 1328.5,326.6 1329.3,330.6 1331.2,334.5 1333.1,338.4 1331.9,342.4 1330.5,346.3 1334.0,350.3 1334.3,354.2 1334.2,358.1 1336.4,362.1 1337.1,366.0 1340.1,370.0 1341.3,373.9 1342.6,377.8 1342.6,381.8 1344.5,385.7 1346.5,389.7 1347.4,393.6 1348.0,397.5 1347.3,401.5 1348.7,405.4 1350.3,409.4 1351.8,413.3 1352.8,417.2 1354.7,421.2 1356.5,425.1 1357.2,429.1 1358.7,433.0 1359.9,436.9 1360.8,440.9 1363.7,444.8 1365.3,448.8 1365.9,452.7 1367.3,456.6 1369.4,460.6 1370.1,464.5 1371.1,468.5 1372.1,472.4 1370.9,476.3 1372.8,480.3 1373.8,484.2 1374.5,488.2 1376.6,492.1 1377.2,496.0 1376.5,500.0 1378.8,503.9 1380.5,507.9 1381.4,511.8 1380.9,515.7 1381.1,519.7 1383.8,523.6 1385.3,527.6 1386.7,531.5 1388.5,535.4 1389.1,539.4 1389.6,543.3 1390.8,547.3 1391.0,551.2 1391.3,555.1 1391.9,559.1 1392.8,563.0 1394.3,567.0 1393.6,570.9 1393.5,574.8 1396.2,578.8 1398.0,582.7 1397.8,586.7 1398.5,590.6 1399.5,594.5 1401.9,598.5 1402.5,602.4 1403.3,606.4 1404.8,610.3 1405.4,614.2 1407.7,618.2 1408.0,622.1 1409.7,626.1 1413.3,630.0 1414.2,633.9 1413.9,637.9 1416.4,641.8 1417.3,645.8 1416.9,649.7 1416.0,653.6 1417.9,657.6 1418.8,661.5 1419.9,665.5 1419.7,669.4 1420.6,673.3 1422.1,677.3 1424.2,681.2 1428.8,685.2 1428.7,689.1 1428.8,693.0 1430.9,697.0 1432.3,700.9 1431.4,704.9 1433.0,708.8 1435.1,712.7 1433.1,716.7 1435.6,720.6 1437.5,724.6 1435.9,728.5 1436.9,732.4 1438.9,736.4" fill="none" stroke="#0ff" stroke-width="7.0" stroke-linejoin="round" stroke-linecap="round"/>
<polyline points="1105.1,19.3 1107.0,23.2 1107.4,27.2 1110.5,31.1 1119.7,35.1 1130.4,39.0 1139.2,42.9 1142.0,46.9 1145.4,50.8 1154.3,54.8 1170.8,58.7 1174.1,62.6 1170.7,66.6 1170.6,70.5 1171.1,74.5 1176.3,78.4 1184.3,82.3 1188.1,86.3 1191.7,90.2 1201.3,94.2 1208.6,98.1 1211.9,102.0 1219.1,106.0 1220.9,109.9 1218.5,113.9 1223.4,117.8 1226.7,121.7 1228.3,125.7 1233.1,129.6 1238.1,133.6 1246.3,137.5 1251.6,141.4 1256.7,145.4 1259.0,149.3 1262.1,153.3 1267.3,157.2 1272.3,161.1 1274.7,165.1 1276.3,169.0 1278.3,173.0 1280.7,176.9 1283.4,180.8 1283.9,184.8 1286.3,188.7 1285.3,192.7 1285.5,196.6 1288.4,200.5 1290.1,204.5 1291.0,208.4 1290.9,212.4 1290.5,216.3 1292.5,220.2 1294.3,224.2 1296.1,228.1 1297.5,232.1 1300.4,236.0 1302.4,239.9 1304.0,243.9 1305.4,247.8 1305.3,251.8 1304.8,255.7 1306.3,259.6 1308.3,263.6 1308.2,267.5 1309.3,271.5 1308.9,275.4 1310.9,279.3 1310.9,283.3 1312.8,287.2 1315.1,291.2 1317.6,295.1 1319.4,299.0 1318.7,303.0 1319.3,306.9 1320.2,310.9 1320.6,314.8 1321.3,318.7 1323.5,322.7 1324.7,326.6 1326.2,330.6 1325.1,334.5 1328.4,338.4 1332.6,342.4 1333.7,346.3 1335.5,350.3 1336.8,354.2 1338.7,358.1 1340.7,362.1 1340.5,366.0 1340.5,370.0 1341.3,373.9 1341.5,377.8 1343.6,381.8 1344.9,385.7 1344.5,389.7 1346.7,393.6 1347.8,397.5 1348.7,401.5 1349.8,405.4 1351.2,409.4 1353.8,413.3 1355.8,417.2 1357.6,421.2 1357.8,425.1 1358.1,429.1 1360.7,433.0 1363.0,436.9 1364.1,440.9 1362.9,444.8 1364.5,448.8 1363.9,452.7 1364.8,456.6 1367.3,460.6 1368.1,464.5 1368.5,468.5 1370.0,472.4 1372.6,476.3 1372.0,480.3 1373.2,484.2 1374.7,488.2 1375.5,492.1 1378.4,496.0 1378.7,500.0 1377.0,503.9 1379.2,507.9 1381.6,511.8 1380.7,515.7 1380.9,519.7 1383.0,523.6 1382.1,527.6 1384.5,531.5 1387.8,535.4 1388.3,539.4 1388.9,543.3 1389.8,547.3 1391.8,551.2 1392.7,555.1 1394.4,559.1 1395.6,563.0 1397.3,567.0 1395.4,570.9 1397.8,574.8 1401.1,578.8 1401.1,582.7 1401.9,586.7 1401.7,590.6 1402.5,594.5 1402.9,598.5 1403.7,602.4 1406.7,606.4 1407.7,610.3 1407.5,614.2 1407.6,618.2 1409.4,622.1 1411.5,626.1 1411.7,630.0 1413.6,633.9 1413.2,637.9 1414.4,641.8 1414.5,645.8 1417.0,649.7 1417.9,653.6 1417.8,657.6 1418.9,661.5 1420.2,665.5 1423.0,669.4 1424.4,673.3 1424.9,677.3 1424.7,681.2 1426.3,685.2 1424.6,689.1 1425.4,693.0 1426.1,697.0 1427.9,700.9 1431.0,704.9 1433.4,708.8 1435.8,712.7 1435.7,716.7 1436.9,720.6 1437.0,724.6 1437.8,728.5 1441.1,732.4 1441.7,736.4" fill="none" stroke="#0ff" stroke-width="7.0" stroke-linejoin="round" stroke-linecap="round"/>
<polyline points="1107.2,19.3 1112.2,23.2 1113.4,27.2 1116.4,31.1 1124.5,35.1 1131.1,39.0 1141.5,42.9 1148.9,46.9 1152.7,50.8 1158.5,54.8 1166.3,58.7 1169.5,62.6 1175.3,66.6 1178.8,70.5 1180.7,74.5 1189.0,78.4 1195.8,82.3 1198.4,86.3 1201.8,90.2 1203.0,94.2 1206.7,98.1 1211.3,102.0 1217.6,106.0 1218.9,109.9 1224.9,113.9 1233.3,117.8 1235.5,121.7 1239.8,125.7 1244.9,129.6 1249.6,133.6 1252.6,137.5 1254.9,141.4 1257.7,145.4 1258.4,149.3 1259.0,153.3 1262.8,157.2 1265.1,161.1 1269.3,165.1 1271.0,169.0 1273.2,173.0 1276.5,176.9 1278.6,180.8 1282.4,184.8 1285.3,188.7 1286.2,192.7 1286.5,196.6 1288.2,200.5 1289.2,204.5 1289.8,208.4 1292.1,212.4 1295.4,216.3 1296.6,220.2 1295.4,224.2 1296.7,228.1 1297.1,232.1 1297.4,236.0 1298.2,239.9 1300.8,243.9 1303.1,247.8 1302.9,251.8 1302.3,255.7 1304.0,259.6 1306.9,263.6 1308.3,267.5 1310.1,271.5 1309.3,275.4 1310.5,279.3 1311.9,283.3 1313.9,287.2 1314.8,291.2 1315.0,295.1 1316.7,299.0 1317.8,303.0 1318.7,306.9 1321.0,310.9 1322.0,314.8 1323.6,318.7 1325.6,322.7 1326.2,326.6 1326.7,330.6 1327.7,334.5 1330.0,338.4 1331.3,342.4 1332.0,346.3 1333.4,350.3 1335.7,354.2 1336.7,358.1 1336.7,362.1 1336.8,366.0 1339.2,370.0 1339.2,373.9 1340.7,377.8 1343.4,381.8 1343.0,385.7 1345.9,389.7 1347.9,393.6 1349.4,397.5 1350.9,401.5 1352.6,405.4 1354.1,409.4 1354.6,413.3 1357.7,417.2 1356.8,421.2 1356.4,425.1 1357.3,429.1 1358.8,433.0 1361.5,436.9 1362.1,440.9 1362.8,444.8 1364.2,448.8 1366.8,452.7 1368.0,456.6 1368.1,460.6 1370.1,464.5 1371.8,468.5 1372.4,472.4 1374.2,476.3 1375.7,480.3 1376.2,484.2 1376.8,488.2 1377.1,492.1 1379.3,496.0 1381.6,500.0 1382.5,503.9 1381.7,507.9 1382.2,511.8 1384.4,515.7 1385.9,519.7 1387.4,523.6 1385.2,527.6 1384.7,531.5 1385.4,535.4 1385.4,539.4 1387.0,543.3 1388.0,547.3 1389.2,551.2 1389.5,555.1 1391.8,559.1 1394.7,563.0 1394.8,567.0 1395.0,570.9 1395.1,574.8 1397.1,578.8 1399.5,582.7 1402.2,586.7 1403.6,590.6 1402.7,594.5 1403.4,598.5 1406.2,602.4 1405.1,606.4 1406.5,610.3 1406.9,614.2 1407.7,618.2 1408.5,622.1 1409.4,626.1 1412.3,630.0 1411.2,633.9 1411.4,637.9 1413.6,641.8 1416.1,645.8 1416.4,649.7 1419.2,653.6 1419.6,657.6 1422.6,661.5 1423.3,665.5 1422.7,669.4 1426.2,673.3 1426.2,677.3 1426.4,681.2 1427.2,685.2 1430.0,689.1 1430.8,693.0 1430.5,697.0 1429.4,700.9 1429.6,704.9 1430.8,708.8 1433.4,712.7 1435.5,716.7 1437.0,720.6 1437.6,724.6 1438.1,728.5 1441.0,732.4 1443.4,736.4" fill="none" stroke="#0ff" stroke-width="7.0" stroke-linejoin="round" stroke-linecap="round"/>
<polyline points="1108.9,19.3 1108.2,23.2 1108.7,27.2 1112.0,31.1 1122.3,35.1 1128.9,39.0 1137.7,42.9 1140.7,46.9 1148.7,50.8 1153.7,54.8 1162.3,58.7 1166.4,62.6 1166.8,66.6 1175.2,70.5 1180.0,74.5 1189.1,78.4 1193.7,82.3 1196.1,86.3 1203.6,90.2 1204.5,94.2 1208.6,98.1 1211.6,102.0 1215.0,106.0 1222.6,109.9 1227.5,113.9 1230.7,117.8 1232.2,121.7 1239.4,125.7 1242.0,129.6 1248.3,133.6 1252.4,137.5 1252.9,141.4 1254.8,145.4 1255.9,149.3 1259.9,153.3 1265.3,157.2 1267.3,161.1 1270.5,165.1 1273.5,169.0 1275.6,173.0 1277.8,176.9 1277.0,180.8 1279.1,184.8 1281.9,188.7 1283.9,192.7 1285.1,196.6 1287.1,200.5 1288.2,204.5 1288.7,208.4 1291.7,212.4 1292.2,216.3 1292.1,220.2 1294.2,224.2 1294.5,228.1 1295.7,232.1 1300.9,236.0 1302.6,239.9 1301.5,243.9 1303.5,247.8 1304.5,251.8 1305.3,255.7 1306.7,259.6 1308.0,263.6 1308.9,267.5 1312.2,271.5 1312.5,275.4 1312.5,279.3 1315.7,283.3 1317.7,287.2 1319.2,291.2 1320.9,295.1 1320.3,299.0 1321.1,303.0 1321.6,306.9 1322.4,310.9 1324.7,314.8 1326.1,318.7 1327.1,322.7 1326.6,326.6 1328.9,330.6 1329.8,334.5 1329.8,338.4 1329.9,342.4 1333.9,346.3 1336.8,350.3 1337.4,354.2 1339.7,358.1 1342.1,362.1 1343.2,366.0 1343.3,370.0 1344.5,373.9 1345.4,377.8 1347.3,381.8 1348.3,385.7 1348.0,389.7 1347.6,393.6 1348.4,397.5 1351.2,401.5 1352.9,405.4 1353.3,409.4 1354.4,413.3 1356.0,417.2 1356.9,421.2 1356.6,425.1 1358.0,429.1 1359.3,433.0 1360.3,436.9 1361.8,440.9 1362.5,444.8 1365.0,448.8 1367.2,452.7 1368.2,456.6 1369.2,460.6 1370.3,464.5 1371.5,468.5 1372.9,472.4 1374.4,476.3 1376.2,480.3 1375.8,484.2 1376.1,488.2 1378.8,492.1 1379.5,496.0 1380.8,500.0 1382.1,503.9 1382.4,507.9 1382.8,511.8 1384.9,515.7 1386.6,519.7 1387.4,523.6 1388.0,527.6 1389.8,531.5 1390.1,535.4 1389.0,539.4 1391.3,543.3 1391.5,547.3 1392.4,551.2 1393.3,555.1 1393.0,559.1 1393.2,563.0 1394.0,567.0 1394.6,570.9 1394.8,574.8 1394.9,578.8 1397.0,582.7 1400.7,586.7 1402.7,590.6 1403.5,594.5 1404.7,598.5 1407.2,602.4 1408.3,606.4 1410.6,610.3 1409.9,614.2 1409.0,618.2 1411.7,622.1 1411.9,626.1 1411.7,630.0 1411.7,633.9 1413.5,637.9 1416.0,641.8 1419.3,645.8 1420.3,649.7 1419.9,653.6 1421.0,657.6 1422.7,661.5 1423.2,665.5 1422.8,669.4 1424.6,673.3 1424.1,677.3 1424.9,681.2 1425.3,685.2 1425.9,689.1 1427.3,693.0 1428.9,697.0 1431.3,700.9 1433.9,704.9 1434.9,708.8 1434.5,712.7 1435.3,716.7 1436.2,720.6 1437.9,724.6 1439.2,728.5 1439.3,732.4 1439.6,736.4" fill="none" stroke="#0ff" stroke-width="7.0" stroke-linejoin="round" stroke-linecap="round"/>
<polyline points="1111.0,19.3 1114.8,23.2 1113.9,27.2 1118.8,31.1 1128.4,35.1 1138.1,39.0 1141.6,42.9 1145.0,46.9 1149.9,50.8 1151.9,54.8 1164.1,58.7 1166.1,62.6 1163.9,66.6 1168.4,70.5 1170.1,74.5 1170.8,78.4 1182.3,82.3 1192.1,86.3 1191.0,90.2 1194.7,94.2 1203.3,98.1 1207.8,102.0 1212.2,106.0 1222.1,109.9 1222.7,113.9 1223.2,117.8 1230.5,121.7 1235.4,125.7 1238.2,129.6 1243.3,133.6 1247.2,137.5 1252.2,141.4 1253.9,145.4 1258.2,149.3 1261.6,153.3 1265.1,157.2 1267.7,161.1 1271.0,165.1 1272.8,169.0 1273.4,173.0 1279.5,176.9 1283.0,180.8 1284.1,184.8 1285.6,188.7 1286.3,192.7 1286.6,196.6 1287.3,200.5 1288.0,204.5 1291.2,208.4 1294.0,212.4 1295.2,216.3 1294.7,220.2 1296.2,224.2 1298.3,228.1 1298.8,232.1 1300.2,236.0 1301.6,239.9 1304.1,243.9 1304.9,247.8 1307.0,251.8 1307.3,255.7 1307.1,259.6 1308.4,263.6 1307.8,267.5 1310.1,271.5 1312.1,275.4 1313.4,279.3 1315.9,283.3 1318.6,287.2 1319.2,291.2 1318.9,295.1 1321.7,299.0 1323.5,303.0 1324.3,306.9 1324.1,310.9 1323.9,314.8 1324.0,318.7 1325.7,322.7 1327.4,326.6 1327.9,330.6 1330.2,334.5 1332.9,338.4 1332.5,342.4 1332.8,346.3 1335.0,350.3 1335.6,354.2 1337.4,358.1 1339.3,362.1 1340.9,366.0 1340.8,370.0 1340.5,373.9 1342.7,377.8 1346.1,381.8 1346.1,385.7 1347.4,389.7 1350.3,393.6 1350.8,397.5 1353.0,401.5 1354.2,405.4 1354.8,409.4 1356.5,413.3 1358.1,417.2 1360.1,421.2 1361.1,425.1 1362.5,429.1 1362.0,433.0 1361.9,436.9 1362.8,440.9 1364.9,444.8 1366.9,448.8 1367.5,452.7 1367.3,456.6 1367.4,460.6 1369.7,464.5 1370.7,468.5 1370.7,472.4 1372.7,476.3 1375.7,480.3 1376.8,484.2 1377.5,488.2 1376.7,492.1 1377.7,496.0 1379.3,500.0 1379.1,503.9 1378.7,507.9 1380.2,511.8 1381.2,515.7 1383.2,519.7 1384.6,523.6 1386.4,527.6 1389.7,531.5 1390.2,535.4 1390.8,539.4 1392.2,543.3 1392.8,547.3 1392.2,551.2 1391.7,555.1 1394.5,559.1 1395.6,563.0 1393.5,567.0 1393.5,570.9 1395.1,574.8 1399.4,578.8 1402.2,582.7 1402.7,586.7 1402.9,590.6 1404.7,594.5 1405.5,598.5 1406.9,602.4 1409.0,606.4 1408.9,610.3 1409.2,614.2 1409.2,618.2 1409.8,622.1 1411.1,626.1 1412.9,630.0 1414.1,633.9 1414.6,637.9 1416.6,641.8 1418.4,645.8 1420.1,649.7 1421.9,653.6 1422.6,657.6 1422.8,661.5 1425.0,665.5 1426.4,669.4 1427.3,673.3 1427.9,677.3 1427.8,681.2 1427.4,685.2 1429.9,689.1 1433.1,693.0 1431.7,697.0 1431.6,700.9 1432.5,704.9 1435.1,708.8 1436.3,712.7 1436.8,716.7 1438.1,720.6 1438.2,724.6 1439.0,728.5 1440.8,732.4 1441.5,736.4" fill="none" stroke="#0ff" stroke-width="7.0" stroke-linejoin="round" stroke-linecap="round"/>
<polyline points="1110.9,19.3 1113.7,23.2 1114.2,27.2 1118.8,31.1 1128.7,35.1 1133.8,39.0 1139.5,42.9 1149.8,46.9 1155.9,50.8 1165.3,54.8 1170.5,58.7 1174.2,62.6 1182.2,66.6 1187.3,70.5 1192.6,74.5 1197.3,78.4 1200.9,82.3 1204.2,86.3 1209.9,90.2 1213.5,94.2 1214.4,98.1 1217.1,102.0 1222.8,106.0 1230.9,109.9 1234.0,113.9 1237.3,117.8 1241.1,121.7 1243.7,125.7 1246.1,129.6 1251.4,133.6 1256.3,137.5 1260.0,141.4 1263.0,145.4 1264.2,149.3 1267.1,153.3 1270.0,157.2 1272.3,161.1 1274.5,165.1 1276.5,169.0 1280.0,173.0 1280.7,176.9 1281.3,180.8 1283.5,184.8 1284.0,188.7 1283.8,192.7 1283.6,196.6 1288.4,200.5 1291.8,204.5 1293.1,208.4 1293.2,212.4 1293.7,216.3 1296.2,220.2 1297.6,224.2 1298.8,228.1 1298.5,232.1 1299.5,236.0 1300.1,239.9 1300.9,243.9 1303.3,247.8 1305.4,251.8 1305.6,255.7 1306.2,259.6 1307.5,263.6 1310.3,267.5 1311.5,271.5 1313.2,275.4 1313.2,279.3 1313.7,283.3 1316.4,287.2 1317.2,291.2 1317.8,295.1 1319.0,299.0 1321.7,303.0 1322.9,306.9 1322.8,310.9 1324.3,314.8 1326.8,318.7 1328.9,322.7 1330.4,326.6 1331.3,330.6 1331.9,334.5 1332.2,338.4 1332.8,342.4 1333.3,346.3 1335.3,350.3 1335.8,354.2 1336.6,358.1 1338.7,362.1 1339.9,366.0 1339.7,370.0 1341.2,373.9 1343.4,377.8 1344.2,381.8 1346.7,385.7 1347.6,389.7 1347.7,393.6 1349.0,397.5 1351.9,401.5 1352.9,405.4 1353.5,409.4 1354.1,413.3 1354.7,417.2 1357.0,421.2 1359.8,425.1 1361.5,429.1 1362.0,433.0 1363.7,436.9 1364.7,440.9 1365.9,444.8 1367.8,448.8 1370.0,452.7 1371.9,456.6 1372.0,460.6 1373.3,464.5 1372.9,468.5 1375.6,472.4 1377.5,476.3 1376.9,480.3 1377.9,484.2 1377.8,488.2 1378.9,492.1 1378.8,496.0 1379.3,500.0 1379.8,503.9 1381.6,507.9 1384.1,511.8 1385.2,515.7 1385.8,519.7 1385.9,523.6 1387.5,527.6 1390.0,531.5 1389.1,535.4 1388.7,539.4 1390.2,543.3 1391.9,547.3 1391.5,551.2 1393.4,555.1 1396.5,559.1 1396.2,563.0 1395.9,567.0 1397.2,570.9 1400.0,574.8 1401.3,578.8 1401.9,582.7 1402.3,586.7 1402.4,590.6 1403.0,594.5 1404.6,598.5 1406.7,602.4 1405.3,606.4 1404.3,610.3 1406.7,614.2 1409.1,618.2 1410.1,622.1 1412.5,626.1 1415.0,630.0 1415.1,633.9 1413.9,637.9 1414.4,641.8 1416.7,645.8 1416.6,649.7 1418.2,653.6 1419.1,657.6 1419.0,661.5 1422.0,665.5 1422.9,669.4 1424.5,673.3 1426.3,677.3 1427.1,681.2 1428.1,685.2 1430.1,689.1 1431.8,693.0 1432.0,697.0 1433.4,700.9 1434.6,704.9 1434.7,708.8 1437.5,712.7 1439.3,716.7 1438.5,720.6 1439.9,724.6 1440.4,728.5 1441.4,732.4 1442.3,736.4" fill="none" stroke="#0ff" stroke-width="7.0" stroke-linejoin="round" stroke-linecap="round"/>
<polyline points="1110.8,19.3 1115.8,23.2 1119.2,27.2 1120.7,31.1 1129.8,35.1 1138.0,39.0 1145.1,42.9 1149.2,46.9 1155.2,50.8 1164.2,54.8 1170.4,58.7 1173.6,62.6 1180.5,66.6 1189.0,70.5 1192.8,74.5 1193.7,78.4 1195.4,82.3 1199.7,86.3 1202.1,90.2 1206.4,94.2 1210.9,98.1 1211.5,102.0 1219.4,106.0 1228.0,109.9 1231.7,113.9 1237.2,117.8 1241.3,121.7 1244.9,125.7 1247.3,129.6 1251.1,133.6 1254.1,137.5 1257.3,141.4 1260.2,145.4 1261.6,149.3 1265.2,153.3 1269.1,157.2 1273.0,161.1 1275.5,165.1 1276.1,169.0 1278.1,173.0 1278.4,176.9 1280.7,180.8 1283.8,184.8 1285.7,188.7 1286.9,192.7 1290.1,196.6 1291.5,200.5 1292.1,204.5 1294.9,208.4 1295.6,212.4 1296.8,216.3 1297.1,220.2 1295.7,224.2 1297.1,228.1 1297.4,232.1 1297.3,236.0 1298.6,239.9 1301.2,243.9 1303.2,247.8 1304.4,251.8 1304.5,255.7 1305.8,259.6 1309.7,263.6 1309.8,267.5 1309.4,271.5 1311.6,275.4 1313.2,279.3 1314.9,283.3 1314.7,287.2 1315.3,291.2 1317.5,295.1 1321.4,299.0 1320.7,303.0 1319.8,306.9 1322.2,310.9 1323.3,314.8 1325.9,318.7 1327.3,322.7 1329.6,326.6 1330.2,330.6 1330.0,334.5 1332.4,338.4 1332.7,342.4 1332.6,346.3 1333.8,350.3 1336.7,354.2 1336.7,358.1 1337.3,362.1 1340.8,366.0 1341.0,370.0 1341.8,373.9 1342.6,377.8 1344.2,381.8 1346.4,385.7 1347.5,389.7 1349.6,393.6 1351.5,397.5 1352.4,401.5 1352.7,405.4 1353.8,409.4 1356.5,413.3 1359.1,417.2 1359.6,421.2 1360.0,425.1 1361.2,429.1 1362.6,433.0 1364.0,436.9 1364.3,440.9 1366.3,444.8 1366.3,448.8 1368.6,452.7 1369.4,456.6 1371.3,460.6 1372.9,464.5 1372.8,468.5 1375.3,472.4 1376.0,476.3 1377.0,480.3 1378.0,484.2 1377.6,488.2 1379.0,492.1 1381.8,496.0 1382.3,500.0 1381.7,503.9 1382.8,507.9 1385.1,511.8 1386.7,515.7 1388.2,519.7 1388.6,523.6 1389.1,527.6 1388.9,531.5 1390.9,535.4 1393.7,539.4 1392.9,543.3 1393.8,547.3 1394.0,551.2 1395.3,555.1 1398.1,559.1 1399.6,563.0 1399.7,567.0 1401.0,570.9 1402.1,574.8 1402.2,578.8 1403.2,582.7 1404.6,586.7 1405.7,590.6 1406.1,594.5 1408.2,598.5 1406.4,602.4 1406.3,606.4 1407.6,610.3 1407.7,614.2 1408.1,618.2 1409.0,622.1 1409.6,626.1 1410.0,630.0 1412.7,633.9 1415.5,637.9 1416.9,641.8 1417.0,645.8 1417.8,649.7 1418.8,653.6 1419.6,657.6 1420.0,661.5 1419.3,665.5 1419.8,669.4 1421.7,673.3 1424.2,677.3 1425.1,681.2 1426.4,685.2 1429.0,689.1 1430.2,693.0 1432.3,697.0 1433.1,700.9 1434.1,704.9 1436.9,708.8 1438.0,712.7 1438.1,716.7 1440.1,720.6 1441.5,724.6 1440.7,728.5 1439.5,732.4 1441.9,736.4" fill="none" stroke="#0ff" stroke-width="7.0" stroke-linejoin="round" stroke-linecap="round"/>
<polyline points="1114.3,19.3 1116.0,23.2 1117.3,27.2 1122.4,31.1 1135.3,35.1 1144.4,39.0 1150.2,42.9 1155.6,46.9 1162.9,50.8 1170.7,54.8 1176.5,58.7 1180.7,62.6 1184.4,66.6 1188.0,70.5 1191.5,74.5 1195.9,78.4 1200.6,82.3 1204.3,86.3 1209.7,90.2 1213.0,94.2 1215.6,98.1 1220.9,102.0 1227.4,106.0 1231.6,109.9 1234.1,113.9 1237.6,117.8 1240.1,121.7 1242.4,125.7 1245.7,129.6 1251.3,133.6 1256.5,137.5 1258.6,141.4 1260.7,145.4 1264.0,149.3 1266.8,153.3 1269.6,157.2 1273.9,161.1 1276.0,165.1 1276.8,169.0 1279.0,173.0 1280.6,176.9 1282.7,180.8 1285.1,184.8 1286.8,188.7 1288.6,192.7 1290.5,196.6 1291.1,200.5 1293.7,204.5 1294.9,208.4 1295.1,212.4 1298.4,216.3 1298.8,220.2 1299.4,224.2 1301.9,228.1 1302.3,232.1 1301.3,236.0 1303.1,239.9 1305.5,243.9 1305.3,247.8 1307.2,251.8 1308.2,255.7 1309.1,259.6 1310.4,263.6 1311.3,267.5 1312.2,271.5 1312.8,275.4 1314.1,279.3 1315.1,283.3 1317.0,287.2 1318.6,291.2 1319.8,295.1 1322.0,299.0 1323.0,303.0 1322.1,306.9 1323.2,310.9 1325.7,314.8 1327.8,318.7 1329.6,322.7 1330.8,326.6 1331.2,330.6 1332.2,334.5 1332.7,338.4 1334.5,342.4 1337.0,346.3 1337.8,350.3 1338.5,354.2 1339.5,358.1 1340.6,362.1 1342.2,366.0 1343.1,370.0 1344.7,373.9 1347.2,377.8 1349.2,381.8 1350.1,385.7 1350.0,389.7 1351.4,393.6 1352.8,397.5 1353.9,401.5 1354.4,405.4 1355.1,409.4 1356.7,413.3 1358.5,417.2 1359.3,421.2 1359.9,425.1 1361.5,429.1 1363.9,433.0 1365.0,436.9 1366.1,440.9 1367.9,444.8 1369.1,448.8 1369.2,452.7 1369.5,456.6 1369.7,460.6 1370.6,464.5 1373.2,468.5 1374.0,472.4 1375.7,476.3 1378.4,480.3 1378.4,484.2 1379.1,488.2 1379.5,492.1 1379.3,496.0 1381.1,500.0 1382.8,503.9 1384.0,507.9 1384.6,511.8 1387.1,515.7 1388.9,519.7 1388.8,523.6 1390.0,527.6 1390.9,531.5 1391.3,535.4 1391.8,539.4 1391.9,543.3 1394.2,547.3 1395.7,551.2 1394.6,555.1 1395.6,559.1 1396.7,563.0 1399.5,567.0 1401.8,570.9 1402.4,574.8 1404.1,578.8 1404.5,582.7 1404.9,586.7 1405.1,590.6 1405.6,594.5 1406.7,598.5 1407.7,602.4 1408.7,606.4 1410.4,610.3 1412.4,614.2 1412.5,618.2 1411.9,622.1 1413.4,626.1 1416.2,630.0 1416.7,633.9 1416.3,637.9 1417.7,641.8 1420.2,645.8 1419.7,649.7 1420.4,653.6 1421.5,657.6 1422.3,661.5 1425.6,665.5 1426.7,669.4 1426.9,673.3 1427.6,677.3 1428.4,681.2 1431.1,685.2 1433.1,689.1 1432.3,693.0 1432.2,697.0 1433.5,700.9 1436.3,704.9 1437.5,708.8 1437.9,712.7 1438.6,716.7 1438.1,720.6 1440.3,724.6 1442.2,728.5 1441.9,732.4 1442.5,736.4" fill="none" stroke="#0ff" stroke-width="7.0" stroke-linejoin="round" stroke-linecap="round"/>
<polyline points="1107.4,19.3 1108.9,23.2 1110.5,27.2 1113.3,31.1 1120.1,35.1 1126.6,39.0 1135.1,42.9 1144.1,46.9 1149.5,50.8 1155.7,54.8 1161.8,58.7 1167.3,62.6 1172.4,66.6 1177.0,70.5 1182.4,74.5 1187.4,78.4 1192.2,82.3 1196.5,86.3 1200.6,90.2 1204.8,94.2 1208.8,98.1 1213.2,102.0 1217.2,106.0 1221.3,109.9 1224.9,113.9 1228.5,117.8 1232.0,121.7 1235.8,125.7 1240.0,129.6 1244.1,133.6 1248.4,137.5 1251.7,141.4 1254.4,145.4 1257.1,149.3 1260.4,153.3 1263.5,157.2 1266.5,161.1 1269.5,165.1 1272.4,169.0 1274.7,173.0 1277.0,176.9 1278.5,180.8 1280.6,184.8 1282.8,188.7 1285.6,192.7 1286.9,196.6 1287.9,200.5 1288.7,204.5 1290.4,208.4 1291.5,212.4 1293.0,216.3 1294.8,220.2 1297.1,224.2 1298.5,228.1 1299.1,232.1 1300.1,236.0 1301.5,239.9 1302.4,243.9 1303.0,247.8 1304.1,251.8 1305.1,255.7 1306.4,259.6 1307.2,263.6 1308.0,267.5 1309.4,271.5 1310.6,275.4 1312.2,279.3 1313.1,283.3 1314.6,287.2 1315.9,291.2 1317.1,295.1 1318.0,299.0 1319.1,303.0 1320.4,306.9 1321.6,310.9 1322.7,314.8 1324.0,318.7 1325.1,322.7 1327.0,326.6 1327.8,330.6 1329.4,334.5 1330.1,338.4 1331.9,342.4 1332.8,346.3 1334.4,350.3 1335.3,354.2 1336.3,358.1 1337.1,362.1 1338.4,366.0 1340.1,370.0 1341.1,373.9 1342.1,377.8 1343.1,381.8 1344.8,385.7 1346.2,389.7 1347.4,393.6 1348.3,397.5 1349.5,401.5 1350.8,405.4 1352.5,409.4 1355.4,413.3 1356.7,417.2 1357.4,421.2 1358.7,425.1 1359.6,429.1 1361.0,433.0 1361.8,436.9 1362.9,440.9 1363.7,444.8 1365.0,448.8 1366.3,452.7 1368.3,456.6 1369.5,460.6 1370.7,464.5 1371.2,468.5 1372.6,472.4 1373.7,476.3 1375.0,480.3 1376.0,484.2 1377.6,488.2 1378.8,492.1 1379.3,496.0 1379.9,500.0 1380.6,503.9 1381.5,507.9 1382.2,511.8 1382.9,515.7 1384.1,519.7 1385.2,523.6 1385.9,527.6 1387.3,531.5 1388.6,535.4 1390.1,539.4 1391.0,543.3 1391.9,547.3 1392.9,551.2 1394.3,555.1 1395.5,559.1 1397.1,563.0 1397.9,567.0 1399.2,570.9 1399.5,574.8 1400.4,578.8 1400.8,582.7 1401.9,586.7 1402.8,590.6 1404.1,594.5 1405.2,598.5 1406.1,602.4 1406.9,606.4 1407.6,610.3 1408.5,614.2 1409.1,618.2 1410.0,622.1 1411.2,626.1 1412.6,630.0 1413.8,633.9 1414.7,637.9 1415.8,641.8 1417.0,645.8 1418.1,649.7 1419.1,653.6 1419.7,657.6 1420.9,661.5 1422.2,665.5 1423.3,669.4 1424.1,673.3 1424.8,677.3 1425.8,681.2 1427.3,685.2 1427.9,689.1 1428.7,693.0 1429.4,697.0 1430.4,700.9 1431.8,704.9 1432.4,708.8 1433.7,712.7 1434.4,716.7 1435.9,720.6 1437.5,724.6 1439.2,728.5 1440.4,732.4 1441.2,736.4 1441.5,740.3 1442.3,744.3 1442.6,748.2 1443.8,752.1 1444.5,756.1 1445.7,760.0 1446.8,764.0 1447.5,767.9" fill="none" stroke="#00f" stroke-width="2.78" stroke-linejoin="round" stroke-linecap="round" marker-start="url(#mb)" marker-mid="url(#mb)" marker-end="url(#mb)"/>
<polyline points="1104.6,18.6 1104.8,20.1 1105.0,21.7 1105.4,23.3 1105.9,24.9 1106.4,26.4 1107.4,28.0 1109.4,30.4 1113.4,34.3 1119.4,38.3 1126.4,42.2 1133.4,46.2 1140.4,50.1 1145.4,54.1 1150.4,58.0 1158.4,65.9 1169.4,73.8 1180.4,81.7 1189.9,89.6 1204.4,97.4 1221.9,117.2 1238.9,136.9 1269.8,176.3 1288.7,215.8 1302.6,255.2 1314.8,294.7 1325.8,334.1 1350.4,413.0 1372.8,491.9 1394.0,570.8 1416.4,649.7 1436.3,728.6 1458.2,807.5" fill="none" stroke="#f00" stroke-width="2.78" stroke-linejoin="round" stroke-linecap="round" marker-start="url(#mr)" marker-mid="url(#mr)" marker-end="url(#mr)"/>
<polyline points="1106.2,18.6 1106.4,20.1 1106.6,21.7 1107.0,23.3 1107.5,24.9 1108.0,26.4 1109.0,28.0 1111.0,30.4 1115.0,34.3 1121.0,38.3 1128.0,42.2 1135.0,46.2 1142.0,50.1 1147.0,54.1 1152.0,58.0 1160.0,65.9 1171.0,73.8 1182.0,81.7 1191.5,89.6 1206.0,97.4 1223.5,117.2 1240.5,136.9 1270.7,176.3 1288.9,215.8 1302.8,255.2 1315.0,294.7 1326.0,334.1 1350.6,413.0 1373.0,491.9 1394.2,570.8 1416.6,649.7 1436.5,728.6 1458.4,807.5" fill="none" stroke="#f00" stroke-width="2.78" stroke-linejoin="round" stroke-linecap="round" marker-start="url(#mr)" marker-mid="url(#mr)" marker-end="url(#mr)"/>
<polyline points="1107.8,18.6 1108.0,20.1 1108.2,21.7 1108.6,23.3 1109.1,24.9 1109.6,26.4 1110.6,28.0 1112.6,30.4 1116.6,34.3 1122.6,38.3 1129.6,42.2 1136.6,46.2 1143.6,50.1 1148.6,54.1 1153.6,58.0 1161.6,65.9 1172.6,73.8 1183.6,81.7 1193.1,89.6 1207.6,97.4 1225.1,117.2 1242.1,136.9 1271.6,176.3 1289.1,215.8 1303.0,255.2 1315.2,294.7 1326.2,334.1 1350.8,413.0 1373.2,491.9 1394.4,570.8 1416.8,649.7 1436.7,728.6 1458.6,807.5" fill="none" stroke="#f00" stroke-width="2.78" stroke-linejoin="round" stroke-linecap="round" marker-start="url(#mr)" marker-mid="url(#mr)" marker-end="url(#mr)"/>
<polygon points="1434.7,728.6 1438.3,728.6 1463.2,807.5 1453.7,807.5" fill="#f00"/>
<polyline points="1113.9,18.6 1114.2,20.1 1114.5,21.7 1115.0,23.3 1115.5,24.9 1116.5,26.4 1117.5,28.0 1119.5,30.4 1124.0,34.3 1131.5,38.3 1138.5,42.2 1144.5,46.2 1149.5,50.1 1153.5,54.1 1157.0,58.0 1162.2,65.9 1172.8,73.8 1182.2,81.7 1194.0,89.6 1208.1,97.4 1228.1,117.2 1244.8,136.9 1272.5,176.3 1290.4,215.8 1304.4,255.2 1317.4,294.7 1329.5,334.1 1353.2,413.0 1375.4,491.9 1397.8,570.8 1417.2,649.7 1437.2,728.6 1458.4,807.5" fill="none" stroke="#008000" stroke-width="2.78" stroke-linejoin="round" stroke-linecap="round" marker-start="url(#mg)" marker-mid="url(#mg)" marker-end="url(#mg)"/>
<polyline points="1096.5,18.9 1096.6,19.8 1096.7,20.6 1096.9,21.6 1097.1,22.6 1097.3,23.6 1097.6,24.8 1097.9,26.1 1098.3,27.5 1098.7,29.2 1099.1,31.0 1099.9,33.1 1101.6,35.6 1106.1,38.4 1114.0,41.8 1122.0,45.7 1131.0,50.4 1139.0,55.9 1153.0,62.5 1166.0,70.5 1182.0,80.0 1198.0,91.4 1213.0,105.1 1231.0,121.6 1248.3,141.5 1267.7,165.4 1284.2,194.1 1297.5,228.4 1308.6,269.5 1322.4,318.5 1340.9,376.7 1361.5,445.4 1383.6,526.3 1408.4,620.7 1440.4,730.4" fill="none" stroke="#f0f" stroke-width="2.78" stroke-linejoin="round" stroke-linecap="round" marker-start="url(#mm)" marker-mid="url(#mm)" marker-end="url(#mm)"/>
<polyline points="1098.3,18.9 1098.4,19.8 1098.5,20.6 1098.7,21.6 1098.9,22.6 1099.1,23.6 1099.4,24.8 1099.7,26.1 1100.1,27.5 1100.5,29.2 1100.9,31.0 1101.7,33.1 1103.4,35.6 1107.9,38.4 1114.0,41.8 1122.0,45.7 1131.0,50.4 1139.0,55.9 1153.0,62.5 1166.0,70.5 1182.0,80.0 1198.0,91.4 1213.0,105.1 1231.0,121.6 1248.3,141.5 1267.7,165.4 1284.2,194.1 1297.5,228.4 1308.6,269.5 1322.4,318.5 1340.9,376.7 1361.5,445.4 1383.6,526.3 1408.4,620.7 1440.4,730.4" fill="none" stroke="#f0f" stroke-width="2.78" stroke-linejoin="round" stroke-linecap="round" marker-start="url(#mm)" marker-mid="url(#mm)" marker-end="url(#mm)"/>
</g>
<rect x="99.5" y="19.4" width="396.0" height="795.0" fill="none" stroke="#000" stroke-width="1.25"/>
<path d="M93.6 19.4H99.5M93.6 97.4H99.5M93.6 176.3H99.5M93.6 255.2H99.5M93.6 334.1H99.5M93.6 413.0H99.5M93.6 491.9H99.5M93.6 570.8H99.5M93.6 649.7H99.5M93.6 728.6H99.5M93.6 807.5H99.5M169.5 814.4v5.9M248.75 814.4v5.9M328.0 814.4v5.9M407.25 814.4v5.9M486.5 814.4v5.9" fill="none" stroke="#000" stroke-width="1.25"/>
<rect x="589.5" y="19.4" width="396.0" height="795.0" fill="none" stroke="#000" stroke-width="1.25"/>
<path d="M583.6 19.4H589.5M583.6 97.4H589.5M583.6 176.3H589.5M583.6 255.2H589.5M583.6 334.1H589.5M583.6 413.0H589.5M583.6 491.9H589.5M583.6 570.8H589.5M583.6 649.7H589.5M583.6 728.6H589.5M583.6 807.5H589.5M633.45 814.4v5.9M706.2 814.4v5.9M778.95 814.4v5.9M851.7 814.4v5.9M924.45 814.4v5.9" fill="none" stroke="#000" stroke-width="1.25"/>
<rect x="1079.5" y="19.4" width="397.0" height="795.0" fill="none" stroke="#000" stroke-width="1.25"/>
<path d="M1073.6 19.4H1079.5M1073.6 97.4H1079.5M1073.6 176.3H1079.5M1073.6 255.2H1079.5M1073.6 334.1H1079.5M1073.6 413.0H1079.5M1073.6 491.9H1079.5M1073.6 570.8H1079.5M1073.6 649.7H1079.5M1073.6 728.6H1079.5M1073.6 807.5H1079.5M1103.5 814.4v5.9M1173.7 814.4v5.9M1243.9 814.4v5.9M1314.1 814.4v5.9M1384.3 814.4v5.9M1454.5 814.4v5.9" fill="none" stroke="#000" stroke-width="1.25"/>
<text x="85.9" y="25.6" font-size="17.50" text-anchor="end" font-weight="normal" font-style="normal" textLength="10.6" lengthAdjust="spacingAndGlyphs" fill="#000" stroke="#000" stroke-width="0.3">0</text>
<text x="85.9" y="104.4" font-size="17.50" text-anchor="end" font-weight="normal" font-style="normal" textLength="31.8" lengthAdjust="spacingAndGlyphs" fill="#000" stroke="#000" stroke-width="0.3">100</text>
<text x="85.9" y="183.3" font-size="17.50" text-anchor="end" font-weight="normal" font-style="normal" textLength="31.8" lengthAdjust="spacingAndGlyphs" fill="#000" stroke="#000" stroke-width="0.3">200</text>
<text x="85.9" y="262.2" font-size="17.50" text-anchor="end" font-weight="normal" font-style="normal" textLength="31.8" lengthAdjust="spacingAndGlyphs" fill="#000" stroke="#000" stroke-width="0.3">300</text>
<text x="85.9" y="341.1" font-size="17.50" text-anchor="end" font-weight="normal" font-style="normal" textLength="31.8" lengthAdjust="spacingAndGlyphs" fill="#000" stroke="#000" stroke-width="0.3">400</text>
<text x="85.9" y="420.0" font-size="17.50" text-anchor="end" font-weight="normal" font-style="normal" textLength="31.8" lengthAdjust="spacingAndGlyphs" fill="#000" stroke="#000" stroke-width="0.3">500</text>
<text x="85.9" y="498.9" font-size="17.50" text-anchor="end" font-weight="normal" font-style="normal" textLength="31.8" lengthAdjust="spacingAndGlyphs" fill="#000" stroke="#000" stroke-width="0.3">600</text>
<text x="85.9" y="577.8" font-size="17.50" text-anchor="end" font-weight="normal" font-style="normal" textLength="31.8" lengthAdjust="spacingAndGlyphs" fill="#000" stroke="#000" stroke-width="0.3">700</text>
<text x="85.9" y="656.7" font-size="17.50" text-anchor="end" font-weight="normal" font-style="normal" textLength="31.8" lengthAdjust="spacingAndGlyphs" fill="#000" stroke="#000" stroke-width="0.3">800</text>
<text x="85.9" y="735.6" font-size="17.50" text-anchor="end" font-weight="normal" font-style="normal" textLength="31.8" lengthAdjust="spacingAndGlyphs" fill="#000" stroke="#000" stroke-width="0.3">900</text>
<text x="85.9" y="814.5" font-size="17.50" text-anchor="end" font-weight="normal" font-style="normal" textLength="42.4" lengthAdjust="spacingAndGlyphs" fill="#000" stroke="#000" stroke-width="0.3">1000</text>
<text x="169.5" y="841.8" font-size="17.50" text-anchor="middle" font-weight="normal" font-style="normal" textLength="21.2" lengthAdjust="spacingAndGlyphs" fill="#000" stroke="#000" stroke-width="0.3">10</text>
<text x="248.8" y="841.8" font-size="17.50" text-anchor="middle" font-weight="normal" font-style="normal" textLength="21.2" lengthAdjust="spacingAndGlyphs" fill="#000" stroke="#000" stroke-width="0.3">15</text>
<text x="328.0" y="841.8" font-size="17.50" text-anchor="middle" font-weight="normal" font-style="normal" textLength="21.2" lengthAdjust="spacingAndGlyphs" fill="#000" stroke="#000" stroke-width="0.3">20</text>
<text x="407.2" y="841.8" font-size="17.50" text-anchor="middle" font-weight="normal" font-style="normal" textLength="21.2" lengthAdjust="spacingAndGlyphs" fill="#000" stroke="#000" stroke-width="0.3">25</text>
<text x="486.5" y="841.8" font-size="17.50" text-anchor="middle" font-weight="normal" font-style="normal" textLength="21.2" lengthAdjust="spacingAndGlyphs" fill="#000" stroke="#000" stroke-width="0.3">30</text>
<text x="633.5" y="841.8" font-size="17.50" text-anchor="middle" font-weight="normal" font-style="normal" textLength="37.1" lengthAdjust="spacingAndGlyphs" fill="#000" stroke="#000" stroke-width="0.3">35.0</text>
<text x="706.2" y="841.8" font-size="17.50" text-anchor="middle" font-weight="normal" font-style="normal" textLength="37.1" lengthAdjust="spacingAndGlyphs" fill="#000" stroke="#000" stroke-width="0.3">35.5</text>
<text x="779.0" y="841.8" font-size="17.50" text-anchor="middle" font-weight="normal" font-style="normal" textLength="37.1" lengthAdjust="spacingAndGlyphs" fill="#000" stroke="#000" stroke-width="0.3">36.0</text>
<text x="851.7" y="841.8" font-size="17.50" text-anchor="middle" font-weight="normal" font-style="normal" textLength="37.1" lengthAdjust="spacingAndGlyphs" fill="#000" stroke="#000" stroke-width="0.3">36.5</text>
<text x="924.5" y="841.8" font-size="17.50" text-anchor="middle" font-weight="normal" font-style="normal" textLength="37.1" lengthAdjust="spacingAndGlyphs" fill="#000" stroke="#000" stroke-width="0.3">37.0</text>
<g transform="translate(1102.5 851.0) rotate(-45)">
<text x="0.0" y="6.1" font-size="17.50" text-anchor="middle" font-weight="normal" font-style="normal" textLength="42.4" lengthAdjust="spacingAndGlyphs" fill="#000" stroke="#000" stroke-width="0.3">1022</text>
</g>
<g transform="translate(1172.7 851.0) rotate(-45)">
<text x="0.0" y="6.1" font-size="17.50" text-anchor="middle" font-weight="normal" font-style="normal" textLength="42.4" lengthAdjust="spacingAndGlyphs" fill="#000" stroke="#000" stroke-width="0.3">1024</text>
</g>
<g transform="translate(1242.9 851.0) rotate(-45)">
<text x="0.0" y="6.1" font-size="17.50" text-anchor="middle" font-weight="normal" font-style="normal" textLength="42.4" lengthAdjust="spacingAndGlyphs" fill="#000" stroke="#000" stroke-width="0.3">1026</text>
</g>
<g transform="translate(1313.1 851.0) rotate(-45)">
<text x="0.0" y="6.1" font-size="17.50" text-anchor="middle" font-weight="normal" font-style="normal" textLength="42.4" lengthAdjust="spacingAndGlyphs" fill="#000" stroke="#000" stroke-width="0.3">1028</text>
</g>
<g transform="translate(1383.3 851.0) rotate(-45)">
<text x="0.0" y="6.1" font-size="17.50" text-anchor="middle" font-weight="normal" font-style="normal" textLength="42.4" lengthAdjust="spacingAndGlyphs" fill="#000" stroke="#000" stroke-width="0.3">1030</text>
</g>
<g transform="translate(1453.5 851.0) rotate(-45)">
<text x="0.0" y="6.1" font-size="17.50" text-anchor="middle" font-weight="normal" font-style="normal" textLength="42.4" lengthAdjust="spacingAndGlyphs" fill="#000" stroke="#000" stroke-width="0.3">1032</text>
</g>
<text x="29.1" y="418.8" font-size="23.33" text-anchor="middle" font-weight="bold" font-style="normal" textLength="129.0" lengthAdjust="spacingAndGlyphs" fill="#000" stroke="#000" stroke-width="0.6" transform="rotate(-90 29.1 418.8)">Depth (m)</text>
<text x="187.7" y="872.0" font-size="23.33" text-anchor="start" font-weight="bold" font-style="normal" textLength="180.4" lengthAdjust="spacingAndGlyphs" fill="#000" stroke="#000" stroke-width="0.6">Temperature (</text>
<text x="370.0" y="863.5" font-size="16.33" text-anchor="start" font-weight="normal" font-style="italic" textLength="9.5" lengthAdjust="spacingAndGlyphs" fill="#000" stroke="#000" stroke-width="0.3">o</text>
<text x="380.5" y="872.0" font-size="23.33" text-anchor="start" font-weight="normal" font-style="italic" textLength="15.5" lengthAdjust="spacingAndGlyphs" fill="#000" stroke="#000" stroke-width="0.3">C</text>
<text x="396.5" y="872.0" font-size="23.33" text-anchor="start" font-weight="bold" font-style="normal" textLength="10.3" lengthAdjust="spacingAndGlyphs" fill="#000" stroke="#000" stroke-width="0.6">)</text>
<text x="787.6" y="869.9" font-size="23.33" text-anchor="middle" font-weight="bold" font-style="normal" textLength="96.2" lengthAdjust="spacingAndGlyphs" fill="#000" stroke="#000" stroke-width="0.6">Salinity</text>
<text x="1277.5" y="896.2" font-size="23.33" text-anchor="middle" font-weight="bold" font-style="normal" textLength="212.7" lengthAdjust="spacingAndGlyphs" fill="#000" stroke="#000" stroke-width="0.6">Density (kg m-3)</text>
<text x="326.9" y="918.0" font-size="18.23" text-anchor="start" font-weight="normal" font-style="italic" textLength="55.4" lengthAdjust="spacingAndGlyphs" fill="#000" stroke="#000" stroke-width="0.3">Ocean</text>
<text x="387.8" y="918.0" font-size="18.23" text-anchor="start" font-weight="normal" font-style="italic" textLength="41.1" lengthAdjust="spacingAndGlyphs" fill="#000" stroke="#000" stroke-width="0.3">Heat</text>
<text x="434.3" y="918.0" font-size="18.23" text-anchor="start" font-weight="normal" font-style="italic" textLength="68.8" lengthAdjust="spacingAndGlyphs" fill="#000" stroke="#000" stroke-width="0.3">Content</text>
<text x="508.7" y="918.0" font-size="18.23" text-anchor="start" font-weight="normal" font-style="italic" textLength="54.1" lengthAdjust="spacingAndGlyphs" fill="#000" stroke="#000" stroke-width="0.3">(kJ/cm</text>
<text x="562.8" y="918.0" font-size="18.23" text-anchor="start" font-weight="normal" font-style="italic" textLength="14.5" lengthAdjust="spacingAndGlyphs" fill="#000" stroke="#000" stroke-width="0.3">^</text>
<text x="577.3" y="918.0" font-size="18.23" text-anchor="start" font-weight="normal" font-style="italic" textLength="17.8" lengthAdjust="spacingAndGlyphs" fill="#000" stroke="#000" stroke-width="0.3">2)</text>
<text x="600.6" y="918.0" font-size="18.23" text-anchor="start" font-weight="normal" font-style="italic" textLength="6.2" lengthAdjust="spacingAndGlyphs" fill="#000" stroke="#000" stroke-width="0.3">-</text>
<text x="612.3" y="918.0" font-size="18.23" text-anchor="start" font-weight="normal" font-style="italic" textLength="57.6" lengthAdjust="spacingAndGlyphs" fill="#000" stroke="#000" stroke-width="0.3">Glider:</text>
<text x="675.5" y="918.0" font-size="18.23" text-anchor="start" font-weight="normal" font-style="italic" textLength="88.1" lengthAdjust="spacingAndGlyphs" fill="#000" stroke="#000" stroke-width="0.3">107.6602,</text>
<text x="774.6" y="918.0" font-size="18.23" text-anchor="start" font-weight="normal" font-style="italic" textLength="63.0" lengthAdjust="spacingAndGlyphs" fill="#000" stroke="#000" stroke-width="0.3">RTOFS:</text>
<text x="843.1" y="918.0" font-size="18.23" text-anchor="start" font-weight="normal" font-style="italic" textLength="88.1" lengthAdjust="spacingAndGlyphs" fill="#000" stroke="#000" stroke-width="0.3">109.3568,</text>
<text x="942.2" y="918.0" font-size="18.23" text-anchor="start" font-weight="normal" font-style="italic" textLength="50.3" lengthAdjust="spacingAndGlyphs" fill="#000" stroke="#000" stroke-width="0.3">ESPC:</text>
<text x="998.0" y="918.0" font-size="18.23" text-anchor="start" font-weight="normal" font-style="italic" textLength="77.1" lengthAdjust="spacingAndGlyphs" fill="#000" stroke="#000" stroke-width="0.3">74.7051,</text>
<text x="1086.1" y="918.0" font-size="18.23" text-anchor="start" font-weight="normal" font-style="italic" textLength="69.7" lengthAdjust="spacingAndGlyphs" fill="#000" stroke="#000" stroke-width="0.3">CMEMS:</text>
<text x="1161.3" y="918.0" font-size="18.23" text-anchor="start" font-weight="normal" font-style="italic" textLength="88.1" lengthAdjust="spacingAndGlyphs" fill="#000" stroke="#000" stroke-width="0.3">104.4139,</text>
<text x="1530.0" y="36.1" font-size="23.33" text-anchor="start" font-weight="bold" font-style="normal" textLength="379.7" lengthAdjust="spacingAndGlyphs" fill="#000" stroke="#000" stroke-width="0.6">Comparison Date: 2025-09-28</text>
<text x="1530.0" y="88.9" font-size="23.33" text-anchor="start" font-weight="bold" font-style="normal" textLength="172.7" lengthAdjust="spacingAndGlyphs" fill="#000" stroke="#000" stroke-width="0.6">Glider: ng783</text>
<text x="1530.0" y="115.5" font-size="23.33" text-anchor="start" font-weight="bold" font-style="normal" textLength="144.6" lengthAdjust="spacingAndGlyphs" fill="#000" stroke="#000" stroke-width="0.6">Profiles: 10</text>
<text x="1530.0" y="142.1" font-size="23.33" text-anchor="start" font-weight="bold" font-style="normal" textLength="339.6" lengthAdjust="spacingAndGlyphs" fill="#000" stroke="#000" stroke-width="0.6">First: 2025-09-28 00:57:46</text>
<text x="1530.0" y="168.9" font-size="23.33" text-anchor="start" font-weight="bold" font-style="normal" textLength="335.0" lengthAdjust="spacingAndGlyphs" fill="#000" stroke="#000" stroke-width="0.6">Last: 2025-09-28 20:28:23</text>
<text x="1530.0" y="195.6" font-size="23.33" text-anchor="start" font-weight="bold" font-style="normal" textLength="339.3" lengthAdjust="spacingAndGlyphs" fill="#000" stroke="#000" stroke-width="0.6">Method: Nearest-Neighbor</text>
<clipPath id="cm"><rect x="1569.5" y="307.0" width="397.5" height="219.2"/></clipPath>
<rect x="1569.5" y="307.0" width="397.5" height="219.2" fill="#97b6e1"/>
<g clip-path="url(#cm)" stroke-linejoin="round" stroke-linecap="round">
<path d="M1621.3 329.5L1627.4 326.4L1628.2 322.8L1634.2 318.3L1642.3 314.3L1653.6 311.5L1664.9 312.3L1672.1 310.3L1681.0 311.9L1687.5 315.1L1691.5 319.1L1698.8 320.4L1706.9 321.2L1712.5 324.8L1715.7 328.8L1721.4 333.7L1727.0 337.3L1734.3 339.7L1740.8 341.7L1738.3 345.0L1750.4 346.6L1755.3 349.8L1759.3 352.2L1755.3 353.8L1747.2 355.9L1739.1 355.1L1731.1 355.5L1723.0 356.3L1713.3 356.7L1717.3 352.2L1721.8 348.2L1719.0 345.8L1713.3 345.0L1706.9 343.4L1703.6 338.5L1701.2 333.3L1694.7 332.9L1687.5 330.8L1682.6 328.0L1678.6 326.4L1671.3 325.6L1666.5 324.4L1661.7 322.4L1658.4 322.0L1662.5 320.4L1660.0 318.7L1653.6 318.3L1648.7 318.7L1644.7 321.2L1640.7 324.0L1635.0 326.0L1631.0 327.2L1628.6 330.0L1624.5 330.0ZM1644.7 330.0L1649.1 330.0L1650.4 334.1L1647.1 335.3L1644.3 333.7ZM1764.3 341.2L1767.5 339.1L1771.8 338.0L1772.8 335.3L1774.4 334.3L1775.5 335.3L1773.9 338.5L1772.8 341.8L1768.5 343.4L1764.8 342.8ZM1768.0 358.6L1771.6 356.5L1776.1 354.1L1780.5 356.9L1784.5 358.6L1789.8 357.4L1794.2 356.5L1799.9 355.7L1806.3 358.2L1812.8 359.8L1815.2 364.2L1817.6 367.4L1822.5 367.8L1827.3 369.1L1830.6 371.9L1833.8 374.3L1831.8 377.1L1829.7 380.0L1828.1 377.9L1822.5 376.7L1816.0 376.3L1812.0 377.1L1809.6 378.7L1804.7 378.7L1803.1 377.1L1799.9 378.7L1797.5 382.0L1795.0 385.6L1792.6 388.4L1791.0 385.2L1790.2 382.0L1787.0 379.5L1780.5 378.7L1772.4 379.5L1766.8 380.4L1763.6 382.0L1760.3 379.5L1755.5 377.5L1755.1 375.1L1757.9 373.1L1765.2 373.9L1771.6 375.5L1778.9 375.5L1782.9 373.9L1780.5 371.1L1777.3 366.6L1777.3 363.4L1772.4 360.6L1768.4 360.2ZM1847.5 375.5L1854.0 375.1L1862.0 375.4L1867.7 376.3L1869.7 378.3L1866.9 381.2L1862.0 382.4L1854.0 383.2L1847.9 383.2L1847.1 379.5ZM1705.2 377.8L1711.7 375.2L1720.7 375.2L1728.4 377.8L1733.5 381.6L1732.2 384.2L1727.0 384.8L1722.0 386.0L1713.0 384.2L1706.5 380.3ZM1565.0 335.7L1569.1 335.7L1574.6 333.6L1581.1 333.0L1587.5 334.1L1593.9 332.5L1597.7 335.2L1598.7 338.9L1596.0 344.3L1592.8 347.5L1590.7 351.8L1589.1 357.1L1588.0 362.5L1586.9 367.8L1585.9 372.1L1584.3 378.5L1582.7 385.0L1581.1 391.4L1579.5 397.8L1576.8 403.2L1573.6 407.4L1569.8 410.7L1565.0 410.7ZM1565.0 409.0L1569.7 409.7L1574.4 411.7L1581.1 410.4L1587.7 409.7L1595.8 411.0L1605.1 409.7L1611.8 410.4L1619.8 409.0L1627.9 411.0L1634.6 416.4L1639.9 419.7L1643.9 422.4L1642.6 430.4L1639.9 437.1L1638.6 445.1L1637.9 451.8L1636.6 458.5L1635.9 463.9L1635.2 469.2L1636.6 474.6L1639.9 479.9L1645.3 486.6L1652.0 492.6L1658.6 497.3L1665.3 501.3L1672.0 500.7L1678.7 498.0L1684.1 495.3L1689.4 492.0L1697.4 492.6L1704.1 494.6L1710.8 498.0L1716.2 502.7L1721.5 507.3L1725.0 510.7L1720.0 506.5L1722.9 507.5L1724.3 512.8L1725.3 506.5L1730.6 501.7L1733.5 496.9L1739.3 494.0L1738.3 490.1L1739.3 485.3L1742.2 479.5L1747.0 475.7L1750.8 472.3L1755.7 476.6L1758.6 469.9L1763.4 470.4L1770.1 468.9L1775.9 465.1L1781.7 462.7L1785.5 458.3L1791.3 454.9L1797.1 457.8L1798.1 460.7L1794.2 463.6L1789.4 465.1L1786.5 467.5L1789.4 472.8L1791.8 476.1L1796.1 473.7L1801.9 470.8L1808.7 468.4L1810.1 466.5L1808.7 463.1L1810.1 459.8L1813.0 458.8L1815.4 460.7L1815.4 464.1L1816.4 466.5L1822.2 467.0L1828.9 468.9L1833.7 472.8L1835.7 478.1L1838.6 480.0L1848.2 479.0L1860.7 478.6L1864.6 482.4L1870.4 484.8L1877.1 485.8L1880.0 483.9L1861.1 479.6L1865.3 483.5L1875.1 485.6L1882.0 482.8L1886.2 480.0L1895.9 477.9L1905.7 476.8L1916.8 476.5L1927.9 475.9L1928.6 480.7L1927.9 485.6L1921.7 485.2L1915.4 487.0L1911.2 487.0L1914.0 489.1L1922.4 490.5L1927.9 494.6L1930.0 500.2L1933.5 505.1L1940.5 505.8L1947.4 510.0L1954.4 515.5L1959.3 520.4L1960.6 526.0L1960.6 530.8L1560.0 535.0L1718.8 529.4L1716.2 525.4L1712.2 522.1L1708.1 517.4L1705.5 512.0L1706.8 508.0L1702.8 504.0L1697.4 500.7L1690.8 500.0L1688.1 503.3L1682.7 506.7L1678.7 510.7L1681.4 514.7L1684.1 519.4L1678.7 522.1L1672.0 521.4L1669.3 517.4L1664.0 516.0L1660.0 512.0L1653.3 510.0L1646.6 508.7L1639.9 505.3L1637.2 501.3L1633.2 496.6L1627.9 494.0L1622.5 491.3L1617.2 489.9L1611.8 486.6L1609.8 482.6L1610.5 477.2L1611.8 473.2L1607.8 469.2L1602.5 463.9L1598.4 458.5L1593.1 453.2L1587.7 449.1L1585.1 445.1L1578.4 444.5L1569.7 443.8L1565.0 443.8ZM1565.0 409.6L1569.8 410.7L1573.0 409.6L1576.8 410.7L1571.4 413.9L1565.0 414.9Z" fill="#d2b48c" stroke="#000" stroke-width="2.1"/>
<path d="M1791.8 476.1L1794.2 480.5L1797.1 485.3L1799.5 490.1L1799.0 495.4L1795.2 498.3L1790.4 498.8L1788.4 494.9L1785.5 490.1L1787.5 486.3L1791.3 480.5ZM1905.0 480.4L1921.3 479.7L1921.3 483.5L1915.1 486.0L1910.5 485.6L1907.1 482.4Z" fill="#97b6e1" stroke="#000" stroke-width="1.9"/>
<path d="M1600.5 456.5L1603.8 455.2L1609.1 458.5L1615.8 463.9L1621.2 468.5L1623.2 471.9L1618.5 471.2L1613.2 469.2L1609.8 465.2L1609.1 461.2L1605.1 458.5Z" fill="#b3b7bd" stroke="none"/>
<path d="M1750.8 473.3L1749.9 483.4L1750.8 492.0L1758.6 497.8L1763.4 502.7L1763.4 513.3L1761.9 525.8M1850.0 523.9L1858.4 518.3L1868.1 514.1L1877.8 516.9L1884.8 512.0L1895.9 510.0L1905.7 507.2L1914.0 503.7L1919.6 504.4L1925.9 500.9M1909.8 491.2L1911.2 496.0L1914.3 499.5L1914.0 503.7M1918.2 491.9L1915.4 497.4L1914.3 499.5M1643.9 421.7L1634.6 424.4L1626.5 426.4L1618.5 429.1M1599.8 441.1L1605.1 441.8L1610.5 439.1M1684.7 496.0L1690.1 500.7M1603.8 456.5L1615.8 463.9L1623.2 471.9L1635.9 477.2" fill="none" stroke="#97b6e1" stroke-width="1.5"/>
<path d="M1789.8 357.8L1789.2 364.2L1789.9 370.7L1787.8 374.7L1790.2 377.9M1569.7 419.7L1574.4 417.0L1578.4 413.0M1569.7 431.1L1573.0 433.8L1579.7 435.8L1585.1 437.1L1587.1 442.5M1641.3 421.7L1634.6 424.4L1626.5 426.4L1621.2 425.1L1618.5 429.1L1611.8 435.1L1603.8 437.1L1598.4 440.5L1597.1 443.8L1589.7 447.8M1614.5 472.6L1622.5 473.2L1629.2 475.9L1635.9 477.2M1647.3 492.6L1646.6 498.6L1649.3 501.3L1647.3 504.7M1720.2 512.0L1713.5 517.4M1786.5 468.0L1781.7 471.8L1776.9 477.6L1774.9 485.3L1773.5 491.1L1770.6 495.4L1774.0 496.9L1777.8 502.7L1781.7 509.4L1780.2 517.1L1782.7 521.0L1787.5 524.8L1797.1 524.6L1806.7 525.0M1941.9 509.3L1933.5 515.5L1931.4 521.1L1936.3 523.2" fill="none" stroke="#000" stroke-width="1.6" stroke-dasharray="4 2.2" stroke-linecap="butt"/>
<path d="M1666.5 311.9L1673.8 310.7L1681.8 312.5L1688.7 316.6L1692.3 319.8L1698.8 321.2L1706.4 322.2L1711.9 325.4L1715.1 329.2L1720.7 333.8L1726.6 337.1" fill="none" stroke="#000" stroke-width="5.2"/>
<path d="M1691.5 339.7L1698.8 345.0L1706.9 348.2L1713.7 349.4" fill="none" stroke="#000" stroke-width="3.3"/>
<path d="M1622.1 329.5L1627.4 327.2" fill="none" stroke="#000" stroke-width="3.0"/>
<path d="M1698.8 334.9L1700.8 340.9L1702.8 343.4" fill="none" stroke="#000" stroke-width="1.6"/>
<path d="M1652.0 333.5L1658.4 333.0L1666.5 332.2L1670.1 332.7" fill="none" stroke="#000" stroke-width="3.0"/>
<path d="M1637.8 326.8L1642.3 328.8L1644.7 331.7" fill="none" stroke="#000" stroke-width="1.5"/>
<path d="M1647.9 324.4L1646.3 327.2L1648.7 329.2" fill="none" stroke="#000" stroke-width="1.8"/>
<path d="M1655.2 320.4L1661.7 320.4L1658.4 322.4L1666.5 326.0" fill="none" stroke="#000" stroke-width="2.2"/>
<path d="M1644.3 333.7L1647.1 335.3L1650.4 334.1" fill="none" stroke="#000" stroke-width="3.4"/>
<path d="M1644.7 330.4L1647.9 328.4L1650.4 330.8" fill="none" stroke="#000" stroke-width="2.4"/>
<path d="M1745.5 308.0L1746.6 311.2L1749.3 313.4L1750.3 316.1" fill="none" stroke="#000" stroke-width="2.6"/>
<path d="M1756.2 316.3L1760.0 317.4L1763.2 317.9L1762.1 321.4L1760.0 323.6L1756.8 325.7" fill="none" stroke="#000" stroke-width="3.0"/>
<path d="M1756.2 316.3L1756.8 320.3L1760.0 320.9" fill="none" stroke="#000" stroke-width="2.5"/>
<path d="M1763.5 312.8L1766.4 312.8" fill="none" stroke="#000" stroke-width="1.8"/>
<path d="M1766.1 319.9L1767.7 319.6" fill="none" stroke="#000" stroke-width="2.0"/>
<path d="M1772.0 322.1L1775.0 322.8L1777.6 323.6" fill="none" stroke="#000" stroke-width="3.0"/>
<path d="M1764.5 341.8L1767.5 339.3L1771.8 338.3L1773.6 334.8" fill="none" stroke="#000" stroke-width="2.2"/>
<path d="M1764.8 342.8L1768.5 343.3L1772.8 341.5" fill="none" stroke="#000" stroke-width="1.6"/>
<path d="M1780.3 332.7L1783.5 329.4L1787.3 328.4L1791.6 330.5L1793.7 334.3L1791.0 338.5L1788.9 339.6" fill="none" stroke="#000" stroke-width="3.0"/>
<path d="M1798.0 335.3L1796.4 338.5" fill="none" stroke="#000" stroke-width="2.2"/>
<path d="M1817.6 365.4L1822.5 365.0" fill="none" stroke="#000" stroke-width="3.4"/>
<path d="M1770.4 369.7L1773.7 371.1L1777.1 372.1" fill="none" stroke="#000" stroke-width="3.0"/>
<path d="M1870.5 377.9L1872.9 379.5" fill="none" stroke="#000" stroke-width="3.0"/>
<path d="M1875.8 377.5L1882.2 376.3L1885.8 372.7" fill="none" stroke="#000" stroke-width="2.8"/>
<path d="M1878.2 385.8L1881.4 385.4" fill="none" stroke="#000" stroke-width="2.6"/>
<path d="M1902.3 388.7L1907.5 393.2" fill="none" stroke="#000" stroke-width="1.8"/>
<path d="M1919.0 404.1L1923.5 403.5L1927.4 404.8L1922.2 409.3" fill="none" stroke="#000" stroke-width="3.2"/>
<path d="M1921.6 414.4L1923.5 418.9" fill="none" stroke="#000" stroke-width="3.0"/>
<path d="M1918.9 404.2L1922.4 403.5L1925.9 405.6L1923.1 409.7" fill="none" stroke="#000" stroke-width="4.0"/>
<path d="M1925.2 448.0L1921.7 454.3L1918.2 460.1" fill="none" stroke="#000" stroke-width="2.8"/>
<path d="M1930.0 471.3L1933.8 470.0" fill="none" stroke="#000" stroke-width="3.2"/>
<path d="M1884.8 473.5L1891.8 472.4" fill="none" stroke="#000" stroke-width="4.2"/>
<path d="M1886.9 476.3L1891.1 475.9" fill="none" stroke="#000" stroke-width="3.2"/>
<path d="M1595.5 350.2L1597.7 348.0" fill="none" stroke="#000" stroke-width="3.2"/>
<path d="M1588.8 358.2L1586.9 367.8L1584.3 378.5L1581.1 391.4L1576.8 403.2L1571.4 409.6" fill="none" stroke="#000" stroke-width="2.8"/>
<path d="M1586.9 358.2L1585.9 363.5L1587.5 360.9" fill="none" stroke="#000" stroke-width="2.6"/>
<path d="M1575.7 376.4L1580.0 375.3L1581.1 372.1L1582.1 380.7L1581.1 385.0" fill="none" stroke="#000" stroke-width="2.6"/>
<path d="M1583.2 388.2L1582.7 392.5L1584.8 389.2" fill="none" stroke="#000" stroke-width="2.6"/>
<path d="M1569.8 382.3L1573.0 380.9" fill="none" stroke="#000" stroke-width="1.4"/>
<path d="M1599.8 404.4L1604.1 402.9L1609.4 402.3" fill="none" stroke="#000" stroke-width="2.8"/>
<path d="M1655.3 496.0L1659.3 498.6" fill="none" stroke="#000" stroke-width="4.0"/>
<path d="M1616.5 484.6L1621.2 486.9L1618.5 490.6" fill="none" stroke="#000" stroke-width="2.6"/>
<path d="M1585.1 441.1L1588.4 445.1L1587.1 447.8" fill="none" stroke="#000" stroke-width="3.0"/>
<path d="M1637.2 453.8L1637.9 456.5" fill="none" stroke="#000" stroke-width="2.6"/>
<path d="M1637.9 502.0L1645.3 506.0L1653.3 510.0" fill="none" stroke="#000" stroke-width="2.4"/>
<path d="M1660.7 518.0L1662.7 520.7" fill="none" stroke="#000" stroke-width="4.0"/>
<path d="M1668.7 515.0L1670.7 518.0" fill="none" stroke="#000" stroke-width="3.2"/>
<path d="M1696.1 506.0L1698.8 508.7" fill="none" stroke="#000" stroke-width="4.5"/>
<path d="M1704.1 506.7L1708.8 508.7" fill="none" stroke="#000" stroke-width="3.0"/>
<path d="M1631.9 415.0L1637.2 418.4" fill="none" stroke="#000" stroke-width="2.6"/>
<path d="M1723.9 507.5L1724.8 513.3" fill="none" stroke="#000" stroke-width="2.8"/>
<path d="M1755.2 475.2L1756.1 477.1" fill="none" stroke="#000" stroke-width="2.8"/>
<path d="M1791.3 473.7L1792.3 476.6" fill="none" stroke="#000" stroke-width="2.4"/>
<path d="M1811.6 453.0L1814.0 455.4" fill="none" stroke="#000" stroke-width="2.2"/>
<path d="M1823.1 456.4L1828.9 460.7" fill="none" stroke="#000" stroke-width="2.6"/>
<path d="M1833.0 457.3L1835.2 459.8" fill="none" stroke="#000" stroke-width="2.6"/>
<path d="M1852.5 463.1L1855.9 462.9" fill="none" stroke="#000" stroke-width="3.4"/>
<path d="M1930.0 497.4L1930.7 503.7" fill="none" stroke="#000" stroke-width="3.6"/>
<path d="M1741.8 311.8L1738.0 314.5L1736.4 318.2L1737.5 322.5L1739.6 326.8" fill="none" stroke="#1a2530" stroke-opacity="0.8" stroke-width="1.4"/>
<ellipse cx="1668.5" cy="364.3" rx="3.0" ry="1.6" fill="#000"/>
<ellipse cx="1685.5" cy="359.1" rx="3.2" ry="1.2" fill="#000"/>
<ellipse cx="1839.3" cy="380.8" rx="1.6" ry="1.5" fill="#000"/>
<ellipse cx="1901.7" cy="379.7" rx="2.6" ry="2.4" fill="#000"/>
<ellipse cx="1899.1" cy="387.4" rx="1.2" ry="1.2" fill="#000"/>
<ellipse cx="1916.8" cy="386.8" rx="1.9" ry="2.0" fill="#000"/>
<ellipse cx="1917.5" cy="394.5" rx="2.3" ry="2.0" fill="#000"/>
<ellipse cx="1912.2" cy="398.7" rx="1.5" ry="1.8" fill="#000"/>
<ellipse cx="1922.8" cy="416.0" rx="2.0" ry="3.6" fill="#000"/>
<ellipse cx="1927.7" cy="426.4" rx="3.0" ry="4.0" fill="#000"/>
<ellipse cx="1927.9" cy="436.2" rx="2.0" ry="3.6" fill="#000"/>
<ellipse cx="1925.2" cy="445.2" rx="2.0" ry="3.0" fill="#000"/>
<ellipse cx="1946.0" cy="445.5" rx="2.4" ry="2.6" fill="#000"/>
<ellipse cx="1853.9" cy="462.9" rx="3.2" ry="2.2" fill="#000"/>
<ellipse cx="1861.8" cy="463.3" rx="1.7" ry="1.5" fill="#000"/>
<ellipse cx="1882.3" cy="463.3" rx="2.2" ry="1.8" fill="#000"/>
<ellipse cx="1900.4" cy="468.9" rx="1.6" ry="1.4" fill="#000"/>
<ellipse cx="1872.3" cy="474.9" rx="2.6" ry="1.8" fill="#000"/>
<ellipse cx="1595.5" cy="407.2" rx="1.6" ry="1.5" fill="#000"/>
<ellipse cx="1668.3" cy="364.1" rx="3.0" ry="1.7" fill="#000"/>
<ellipse cx="1685.4" cy="359.0" rx="3.2" ry="1.3" fill="#000"/>
<ellipse cx="1666.7" cy="443.4" rx="1.4" ry="1.4" fill="#000"/>
<ellipse cx="1662.4" cy="453.8" rx="1.5" ry="1.5" fill="#000"/>
<ellipse cx="1724.2" cy="505.3" rx="1.3" ry="1.3" fill="#000"/>
<ellipse cx="1595.5" cy="407.4" rx="1.4" ry="1.4" fill="#000"/>
<ellipse cx="1861.7" cy="463.1" rx="1.4" ry="1.3" fill="#000"/>
<ellipse cx="1872.3" cy="474.7" rx="2.4" ry="1.5" fill="#000"/>
<circle cx="1647.3" cy="427.7" r="1.8" fill="#123" fill-opacity="0.5"/>
<circle cx="1650.6" cy="430.4" r="1.8" fill="#123" fill-opacity="0.5"/>
<circle cx="1648.6" cy="425.1" r="1.4" fill="#123" fill-opacity="0.5"/>
<circle cx="1650.6" cy="419.0" r="2.0" fill="#123" fill-opacity="0.5"/>
<circle cx="1642.3" cy="409.7" r="2.0" fill="#123" fill-opacity="0.5"/>
<circle cx="1645.5" cy="457.8" r="1.8" fill="#123" fill-opacity="0.5"/>
<circle cx="1641.3" cy="449.1" r="1.6" fill="#123" fill-opacity="0.5"/>
<circle cx="1852.3" cy="362.2" r="4.6" fill="#f00" stroke="#000" stroke-width="1.5"/>
</g>
<rect x="1569.5" y="307.0" width="397.5" height="219.2" fill="none" stroke="#000" stroke-width="1.3"/>
<path d="M1621.8 307.0v-8.6M1621.8 526.2v8.6M1685.5 307.0v-8.6M1685.5 526.2v8.6M1749.3 307.0v-8.6M1749.3 526.2v8.6M1813.0 307.0v-8.6M1813.0 526.2v8.6M1876.8 307.0v-8.6M1876.8 526.2v8.6M1940.5 307.0v-8.6M1940.5 526.2v8.6M1569.5 487.2h-8.6M1967.0 487.2h8.6M1569.5 421.9h-8.6M1967.0 421.9h8.6M1569.5 355.0h-8.6M1967.0 355.0h8.6" stroke="#000" stroke-width="2.7" fill="none"/>
<path d="M1570.8 307.0v-3.4M1570.8 526.2v3.4M1583.5 307.0v-3.4M1583.5 526.2v3.4M1596.3 307.0v-3.4M1596.3 526.2v3.4M1609.0 307.0v-3.4M1609.0 526.2v3.4M1634.5 307.0v-3.4M1634.5 526.2v3.4M1647.3 307.0v-3.4M1647.3 526.2v3.4M1660.0 307.0v-3.4M1660.0 526.2v3.4M1672.8 307.0v-3.4M1672.8 526.2v3.4M1698.3 307.0v-3.4M1698.3 526.2v3.4M1711.0 307.0v-3.4M1711.0 526.2v3.4M1723.8 307.0v-3.4M1723.8 526.2v3.4M1736.5 307.0v-3.4M1736.5 526.2v3.4M1762.0 307.0v-3.4M1762.0 526.2v3.4M1774.8 307.0v-3.4M1774.8 526.2v3.4M1787.5 307.0v-3.4M1787.5 526.2v3.4M1800.3 307.0v-3.4M1800.3 526.2v3.4M1825.8 307.0v-3.4M1825.8 526.2v3.4M1838.5 307.0v-3.4M1838.5 526.2v3.4M1851.3 307.0v-3.4M1851.3 526.2v3.4M1864.0 307.0v-3.4M1864.0 526.2v3.4M1889.5 307.0v-3.4M1889.5 526.2v3.4M1902.3 307.0v-3.4M1902.3 526.2v3.4M1915.0 307.0v-3.4M1915.0 526.2v3.4M1927.8 307.0v-3.4M1927.8 526.2v3.4M1953.3 307.0v-3.4M1953.3 526.2v3.4M1966.0 307.0v-3.4M1966.0 526.2v3.4M1569.5 525.9h-3.4M1967.0 525.9h3.4M1569.5 513.0h-3.4M1967.0 513.0h3.4M1569.5 500.1h-3.4M1967.0 500.1h3.4M1569.5 474.2h-3.4M1967.0 474.2h3.4M1569.5 461.2h-3.4M1967.0 461.2h3.4M1569.5 448.2h-3.4M1967.0 448.2h3.4M1569.5 435.1h-3.4M1967.0 435.1h3.4M1569.5 408.7h-3.4M1967.0 408.7h3.4M1569.5 395.4h-3.4M1967.0 395.4h3.4M1569.5 382.0h-3.4M1967.0 382.0h3.4M1569.5 368.5h-3.4M1967.0 368.5h3.4M1569.5 341.4h-3.4M1967.0 341.4h3.4M1569.5 327.7h-3.4M1967.0 327.7h3.4M1569.5 313.9h-3.4M1967.0 313.9h3.4" stroke="#000" stroke-width="1.3" fill="none"/>
<text x="1553.5" y="365.0" font-size="23.33" text-anchor="end" textLength="56.0" lengthAdjust="spacingAndGlyphs" stroke="#000" stroke-width="0.3">20°N</text>
<text x="1553.5" y="431.0" font-size="23.33" text-anchor="end" textLength="56.0" lengthAdjust="spacingAndGlyphs" stroke="#000" stroke-width="0.3">15°N</text>
<text x="1553.5" y="496.3" font-size="23.33" text-anchor="end" textLength="56.0" lengthAdjust="spacingAndGlyphs" stroke="#000" stroke-width="0.3">10°N</text>
<g transform="translate(1619.3 570.3) rotate(-45)"><text x="0.0" y="8.1" font-size="23.33" text-anchor="middle" textLength="61.4" lengthAdjust="spacingAndGlyphs" stroke="#000" stroke-width="0.3">85°W</text></g>
<g transform="translate(1683.0 570.3) rotate(-45)"><text x="0.0" y="8.1" font-size="23.33" text-anchor="middle" textLength="61.4" lengthAdjust="spacingAndGlyphs" stroke="#000" stroke-width="0.3">80°W</text></g>
<g transform="translate(1746.8 570.3) rotate(-45)"><text x="0.0" y="8.1" font-size="23.33" text-anchor="middle" textLength="61.4" lengthAdjust="spacingAndGlyphs" stroke="#000" stroke-width="0.3">75°W</text></g>
<g transform="translate(1810.5 570.3) rotate(-45)"><text x="0.0" y="8.1" font-size="23.33" text-anchor="middle" textLength="61.4" lengthAdjust="spacingAndGlyphs" stroke="#000" stroke-width="0.3">70°W</text></g>
<g transform="translate(1874.3 570.3) rotate(-45)"><text x="0.0" y="8.1" font-size="23.33" text-anchor="middle" textLength="61.4" lengthAdjust="spacingAndGlyphs" stroke="#000" stroke-width="0.3">65°W</text></g>
<g transform="translate(1938.0 570.3) rotate(-45)"><text x="0.0" y="8.1" font-size="23.33" text-anchor="middle" textLength="61.4" lengthAdjust="spacingAndGlyphs" stroke="#000" stroke-width="0.3">60°W</text></g>
<rect x="1685" y="647" width="165.4" height="143.9" rx="4.5" fill="#fff" stroke="#ccc" stroke-width="1.4"/>
<path d="M1693.1 666.2H1740.9" stroke="#00f" stroke-width="2.78"/><circle cx="1717.2" cy="666.2" r="5.7" fill="#00f"/>
<text x="1758.6" y="674.4" font-size="23.33" text-anchor="start" font-weight="normal" font-style="normal" textLength="70.6" lengthAdjust="spacingAndGlyphs" fill="#000" stroke="#000" stroke-width="0.3">ng783</text>
<path d="M1693.1 701.5H1740.9" stroke="#f00" stroke-width="2.78"/><circle cx="1717.2" cy="701.5" r="5.7" fill="#f00"/>
<text x="1758.6" y="709.7" font-size="23.33" text-anchor="start" font-weight="normal" font-style="normal" textLength="71.4" lengthAdjust="spacingAndGlyphs" fill="#000" stroke="#000" stroke-width="0.3">RTOFS</text>
<path d="M1693.1 735.4H1740.9" stroke="#008000" stroke-width="2.78"/><circle cx="1717.2" cy="735.4" r="5.7" fill="#008000"/>
<text x="1758.6" y="743.6" font-size="23.33" text-anchor="start" font-weight="normal" font-style="normal" textLength="57.1" lengthAdjust="spacingAndGlyphs" fill="#000" stroke="#000" stroke-width="0.3">ESPC</text>
<path d="M1693.1 769.1H1740.9" stroke="#f0f" stroke-width="2.78"/><circle cx="1717.2" cy="769.1" r="5.7" fill="#f0f"/>
<text x="1758.6" y="777.3" font-size="23.33" text-anchor="start" font-weight="normal" font-style="normal" textLength="82.0" lengthAdjust="spacingAndGlyphs" fill="#000" stroke="#000" stroke-width="0.3">CMEMS</text>
</svg>
</body></html>
